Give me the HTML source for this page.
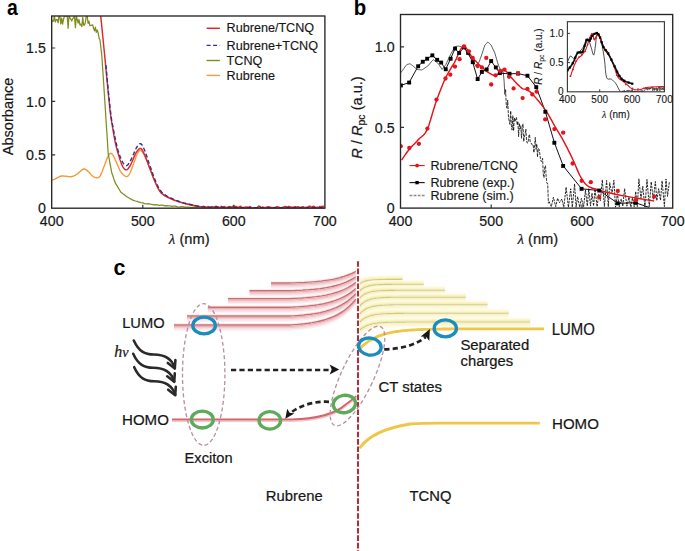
<!DOCTYPE html><html><head><meta charset="utf-8"><style>html,body{margin:0;padding:0;background:#fff;width:685px;height:551px;overflow:hidden;font-family:"Liberation Sans", sans-serif}svg{display:block}</style></head><body><svg width="685" height="551" viewBox="0 0 685 551">
<defs>
<filter id="sh" x="-20%" y="-20%" width="140%" height="140%"><feGaussianBlur stdDeviation="0.9"/></filter>
</defs>
<rect width="685" height="551" fill="#fff"/>
<g font-family="'Liberation Sans', sans-serif">
<text x="7.1" y="15.0" font-size="21.5" font-weight="bold" transform="translate(7.1 0) scale(0.9 1) translate(-7.1 0)">a</text>
<text x="353.8" y="15.2" font-size="21.5" font-weight="bold" transform="translate(353.8 0) scale(0.95 1) translate(-353.8 0)">b</text>
<text x="113.4" y="275.0" font-size="22" font-weight="bold" transform="translate(113.4 0) scale(0.97 1) translate(-113.4 0)">c</text>
</g>
<clipPath id="ca"><rect x="51.7" y="16.0" width="273.2" height="192.2"/></clipPath>
<clipPath id="cb"><rect x="400.5" y="14.5" width="272.20000000000005" height="193.6"/></clipPath>
<clipPath id="ci"><rect x="567.4" y="21.7" width="97.0" height="70.1"/></clipPath>
<g clip-path="url(#ca)" fill="none" stroke-linejoin="round">
<path d="M51.7,180.4 L52.3,180.1 L53.2,179.7 L54.2,179.3 L55.3,178.8 L56.3,178.3 L57.2,177.8 L58.1,177.3 L59.0,176.9 L59.9,176.5 L60.8,176.2 L61.7,176.0 L62.5,176.0 L63.4,176.0 L64.3,176.1 L65.4,176.2 L66.5,176.3 L67.8,176.5 L69.2,176.6 L70.5,176.7 L71.7,176.6 L72.9,176.3 L73.9,175.9 L75.0,175.4 L76.1,174.7 L77.2,174.0 L78.4,173.1 L79.8,171.8 L81.1,170.6 L82.4,169.6 L83.6,169.0 L84.6,169.0 L85.5,169.3 L86.4,169.9 L87.2,170.6 L88.1,171.4 L89.1,172.2 L90.0,173.3 L90.9,174.4 L91.8,175.4 L92.7,176.2 L93.5,176.7 L94.2,177.1 L94.9,177.4 L95.6,177.6 L96.3,177.7 L97.1,177.7 L97.8,177.6 L98.5,177.4 L99.2,177.0 L100.0,176.2 L100.7,174.9 L101.4,173.3 L102.2,171.5 L102.9,169.5 L103.6,167.6 L104.4,165.7 L105.1,163.6 L105.9,161.5 L106.6,159.6 L107.3,158.0 L107.9,156.7 L108.4,155.6 L108.9,154.7 L109.5,154.0 L110.0,153.5 L110.5,153.3 L111.0,153.3 L111.6,153.6 L112.1,154.1 L112.7,154.8 L113.4,155.9 L114.1,157.3 L114.8,158.8 L115.6,160.6 L116.4,162.3 L117.2,164.1 L118.1,166.2 L119.0,168.3 L119.9,170.3 L120.9,171.9 L122.0,173.3 L123.1,174.5 L124.3,175.5 L125.4,176.3 L126.4,176.6 L127.2,176.5 L128.0,176.0 L128.6,175.2 L129.3,174.2 L130.0,173.0 L130.7,171.4 L131.5,169.5 L132.2,167.5 L132.9,165.4 L133.7,163.4 L134.4,161.3 L135.2,159.2 L135.9,157.1 L136.6,155.3 L137.3,153.7 L137.9,152.6 L138.5,151.7 L139.0,151.1 L139.5,150.7 L140.0,150.5 L140.6,150.5 L141.1,150.8 L141.6,151.2 L142.2,151.9 L142.8,152.7 L143.4,153.7 L144.2,155.0 L144.9,156.4 L145.7,158.0 L146.4,159.6 L147.1,161.4 L147.9,163.3 L148.6,165.3 L149.3,167.3 L150.1,169.2 L150.8,171.2 L151.5,173.1 L152.2,175.1 L153.0,177.0 L153.7,178.8 L154.4,180.6 L155.2,182.3 L155.9,183.9 L156.6,185.4 L157.3,186.8 L158.1,188.2 L158.8,189.5 L159.5,190.6 L160.2,191.7 L161.0,192.7 L161.8,193.6 L162.7,194.4 L163.7,195.0 L164.6,195.7 L165.5,196.2 L166.4,196.7 L167.1,197.1 L167.9,197.5 L168.9,197.9 L170.1,198.4 L171.6,199.0 L173.4,199.8 L175.3,200.6 L177.3,201.3 L179.2,202.0 L181.0,202.6 L182.8,203.1 L184.7,203.6 L186.5,204.0 L188.3,204.5 L190.0,204.9 L191.5,205.3 L193.1,205.6 L195.0,206.0 L197.4,206.3 L200.2,206.6 L203.2,206.8 L206.6,207.0 L210.7,207.2 L215.6,207.3 L221.2,207.4 L227.1,207.5 L234.0,207.5 L242.1,207.5 L252.0,207.6 L265.5,207.6 L282.1,207.6 L299.3,207.6 L314.4,207.7 L324.9,207.7" stroke="#f39a3c" stroke-width="1.4"/>
<path d="M51.7,22.0 L52.6,20.6 L53.5,21.2 L54.4,16.0 L55.3,22.0 L56.3,19.5 L57.2,19.5 L58.1,22.9 L59.0,16.0 L59.9,16.6 L60.8,23.9 L61.7,18.2 L62.6,24.2 L63.5,19.5 L64.4,16.0 L65.4,16.0 L66.3,16.0 L67.2,16.0 L68.1,28.3 L69.0,16.0 L69.9,17.9 L70.8,19.2 L71.7,21.0 L72.6,18.6 L73.6,17.7 L74.5,16.0 L75.4,27.7 L76.3,16.0 L77.2,19.3 L78.1,23.2 L79.0,19.5 L79.9,24.9 L80.8,24.2 L81.8,26.6 L82.7,17.4 L83.6,25.1 L84.5,25.1 L85.4,22.2 L86.3,16.0 L87.2,16.0 L88.1,23.5 L89.0,21.1 L89.9,25.7 L90.9,25.5 L91.8,25.1 L92.7,24.8 L93.6,28.6 L94.5,30.8 L95.4,27.2 L96.3,32.4 L97.2,30.0 L98.1,32.7 L99.1,38.4 L100.0,40.0 L100.9,47.8 L101.8,55.5 L102.7,68.9 L103.6,82.2 L104.5,96.1 L105.4,110.0 L106.3,124.6 L107.3,139.2 L108.2,153.7 L109.1,158.5 L110.0,163.4 L110.9,168.2 L111.8,173.0 L112.7,175.5 L113.6,178.1 L114.5,180.7 L115.4,183.2 L117.3,186.2 L119.1,189.2 L120.9,192.2 L122.7,193.6 L124.6,195.0 L126.4,196.5 L128.2,197.5 L130.0,198.5 L131.8,199.6 L133.7,200.3 L135.5,201.0 L137.3,201.4 L139.1,202.2 L140.9,202.6 L142.8,202.8 L144.6,203.6 L146.4,203.9 L148.2,203.6 L150.1,204.2 L151.9,204.3 L153.7,204.9 L155.5,204.7 L157.3,204.8 L159.2,205.4 L161.0,205.1 L162.8,205.2 L164.6,205.9 L166.4,205.6 L168.3,205.9 L170.1,205.9 L171.9,206.3 L173.7,206.1 L175.6,206.2 L177.4,206.9 L179.2,207.0 L181.0,206.6 L182.8,206.5 L184.7,207.2 L186.5,207.0 L188.3,207.0 L190.1,207.3 L191.9,207.3 L193.8,207.4 L195.6,207.4 L197.4,207.3 L199.2,207.5 L201.0,207.5 L202.9,207.2 L204.7,207.8 L206.5,207.4 L208.3,207.3 L210.2,207.7 L212.0,207.8 L213.8,207.3 L215.6,207.8 L217.4,207.8 L219.3,207.7 L221.1,207.5 L222.9,208.0 L224.7,207.8 L226.5,207.8 L228.4,207.4 L230.2,207.8 L232.0,207.4 L233.8,208.1 L235.7,207.9 L237.5,207.6 L239.3,207.5 L241.1,207.8 L242.9,208.0 L244.8,208.1 L246.6,207.8 L248.4,208.1 L250.2,207.5 L252.0,207.5 L253.9,208.1 L255.7,208.0 L257.5,207.5 L259.3,207.7 L261.2,207.5 L263.0,207.9 L264.8,208.1 L266.6,208.0 L268.4,207.6 L270.3,208.0 L272.1,207.9 L273.9,207.9 L275.7,207.9 L277.5,207.9 L279.4,207.5 L281.2,208.1 L283.0,208.3 L284.8,207.5 L286.7,207.5 L288.5,207.4 L290.3,207.9 L292.1,207.5 L293.9,207.5 L295.8,208.1 L297.6,207.6 L299.4,207.6 L301.2,207.7 L303.0,207.8 L304.9,208.0 L306.7,208.0 L308.5,208.1 L310.3,208.2 L312.2,207.8 L314.0,208.0 L315.8,207.6 L317.6,208.3 L319.4,207.5 L321.3,207.7 L323.1,207.5 L324.9,207.5" stroke="#808d1e" stroke-width="1.25"/>
<path d="M100.5,13.9 L101.4,22.7 L102.7,35.5 L104.1,49.7 L105.4,63.0 L106.6,75.6 L107.8,88.4 L109.0,100.3 L110.0,110.0 L110.8,116.6 L111.5,121.0 L112.1,124.5 L112.7,128.1 L113.4,132.1 L114.0,135.9 L114.7,139.5 L115.4,143.1 L116.3,146.7 L117.2,150.3 L118.2,153.8 L119.1,156.9 L120.0,159.8 L121.0,162.4 L121.9,164.7 L122.7,166.6 L123.5,167.9 L124.2,168.8 L124.8,169.4 L125.5,169.8 L126.1,169.9 L126.8,169.8 L127.4,169.4 L128.2,168.7 L129.0,167.5 L130.0,166.0 L130.9,164.2 L131.8,162.3 L132.7,160.2 L133.7,157.9 L134.6,155.7 L135.5,153.7 L136.4,152.2 L137.4,150.8 L138.3,149.7 L139.1,148.9 L139.8,148.5 L140.5,148.4 L141.1,148.7 L141.9,149.5 L142.7,150.8 L143.6,152.6 L144.6,154.8 L145.5,156.9 L146.4,159.2 L147.3,161.6 L148.2,164.1 L149.1,166.6 L150.1,169.0 L151.0,171.4 L151.9,173.8 L152.8,176.2 L153.7,178.4 L154.6,180.6 L155.5,182.7 L156.4,184.7 L157.3,186.6 L158.2,188.5 L159.2,190.2 L160.1,191.6 L161.0,192.7 L161.8,193.5 L162.7,194.2 L163.7,194.9 L164.7,195.6 L165.8,196.2 L167.0,196.9 L168.3,197.5 L169.7,198.2 L171.2,198.8 L172.8,199.5 L174.6,200.2 L176.7,200.9 L179.0,201.7 L181.4,202.4 L183.7,203.1 L186.0,203.7 L188.3,204.2 L190.6,204.7 L192.9,205.2 L195.3,205.7 L198.0,206.2 L200.3,206.6 L202.0,206.9 L203.8,206.3 L205.1,206.9 L206.5,208.0 L207.9,206.6 L209.2,207.7 L210.6,207.4 L212.0,206.7 L213.3,207.0 L214.7,207.2 L216.1,206.2 L217.4,206.8 L218.8,207.3 L220.2,207.5 L221.5,206.3 L222.9,207.1 L224.3,206.5 L225.6,207.3 L227.0,207.6 L228.4,207.0 L229.7,206.4 L231.1,207.7 L232.5,206.5 L233.8,206.2 L235.2,206.4 L236.6,206.4 L237.9,208.0 L239.3,206.8 L240.7,206.3 L242.0,207.9 L243.4,207.5 L244.8,207.5 L246.1,207.0 L247.5,207.2 L248.9,207.1 L250.2,206.5 L251.6,208.0 L253.0,207.9 L254.3,207.7 L255.7,207.7 L257.1,207.9 L258.4,206.1 L259.8,206.3 L261.2,207.8 L262.5,207.0 L263.9,207.4 L265.3,207.4 L266.6,207.3 L268.0,206.7 L269.3,206.9 L270.7,207.3 L272.1,207.6 L273.4,207.4 L274.8,207.7 L276.2,206.9 L277.5,206.6 L278.9,207.3 L280.3,207.8 L281.6,207.6 L283.0,207.3 L284.4,206.8 L285.7,206.5 L287.1,207.3 L288.5,206.4 L289.8,206.8 L291.2,207.2 L292.6,207.3 L293.9,207.0 L295.3,206.6 L296.7,207.2 L298.0,206.7 L299.4,207.1 L300.8,207.5 L302.1,207.0 L303.5,206.7 L304.9,207.8 L306.2,207.2 L307.6,207.2 L309.0,206.3 L310.3,206.2 L311.7,207.3 L313.1,206.3 L314.4,206.5 L315.8,207.5 L317.2,207.1 L318.5,207.7 L319.9,206.4 L321.3,206.7 L322.6,206.3 L324.0,206.5" stroke="#e3242b" stroke-width="1.45"/>
<path d="M105.9,65.1 L106.7,73.8 L107.9,86.5 L109.2,99.7 L110.3,110.0 L111.1,116.3 L111.7,120.4 L112.3,123.7 L113.0,127.0 L113.7,130.8 L114.3,134.3 L115.0,137.6 L115.7,140.9 L116.5,144.3 L117.3,147.7 L118.2,150.9 L119.1,153.7 L120.0,156.3 L121.0,158.6 L121.9,160.6 L122.7,162.3 L123.5,163.6 L124.2,164.5 L124.8,165.1 L125.5,165.5 L126.1,165.6 L126.8,165.6 L127.4,165.2 L128.2,164.4 L129.0,163.2 L130.0,161.7 L130.9,159.9 L131.8,158.0 L132.7,156.0 L133.7,153.7 L134.6,151.4 L135.5,149.5 L136.4,147.8 L137.4,146.2 L138.3,145.0 L139.1,144.1 L139.8,143.7 L140.5,143.6 L141.1,143.9 L141.9,144.7 L142.7,146.1 L143.6,148.0 L144.6,150.3 L145.5,152.7 L146.4,155.2 L147.3,157.8 L148.2,160.6 L149.1,163.4 L150.1,166.1 L151.0,168.8 L151.9,171.5 L152.8,174.0 L153.7,176.5 L154.6,178.8 L155.5,181.0 L156.4,183.1 L157.3,185.1 L158.2,186.9 L159.2,188.6 L160.1,190.0 L161.0,191.2 L161.8,192.2 L162.7,193.0 L163.7,193.8 L164.7,194.6 L165.8,195.3 L167.0,196.0 L168.3,196.7 L169.7,197.4 L171.2,198.1 L172.8,198.9 L174.6,199.7 L176.7,200.5 L179.0,201.3 L181.4,202.1 L183.7,202.9 L186.0,203.5 L188.3,204.0 L190.6,204.5 L192.9,205.0 L194.6,205.5 L196.0,205.9 L198.1,206.3 L202.0,206.7 L208.0,207.0 L215.6,207.2 L224.4,207.4 L233.8,207.6 L244.3,207.6 L255.7,207.7 L267.7,207.7 L279.4,207.7 L291.8,207.7 L305.0,207.7 L316.7,207.8 L324.9,207.8" stroke="#2e3192" stroke-width="1.4" stroke-dasharray="4 2.5"/>
</g>
<rect x="51.7" y="16.0" width="273.2" height="192.2" fill="none" stroke="#262626" stroke-width="1.35"/>
<path d="M51.7,154.8 h3.5 M51.7,101.4 h3.5 M51.7,48.0 h3.5 M142.8,208.2 v-3.5 M233.8,208.2 v-3.5" stroke="#333" stroke-width="1.2"/>
<g font-family="'Liberation Sans', sans-serif" font-size="14.2" fill="#161616" stroke="#161616" stroke-width="0.2">
<text x="45.8" y="213.4" text-anchor="end" font-size="14.8" transform="translate(45.8 0) scale(0.96 1) translate(-45.8 0)">0</text>
<text x="45.8" y="160.0" text-anchor="end" font-size="14.8" transform="translate(45.8 0) scale(0.96 1) translate(-45.8 0)">0.5</text>
<text x="45.8" y="106.6" text-anchor="end" font-size="14.8" transform="translate(45.8 0) scale(0.96 1) translate(-45.8 0)">1.0</text>
<text x="45.8" y="53.2" text-anchor="end" font-size="14.8" transform="translate(45.8 0) scale(0.96 1) translate(-45.8 0)">1.5</text>
<text x="51.7" y="226.3" text-anchor="middle" font-size="14.8" transform="translate(51.7 0) scale(0.96 1) translate(-51.7 0)">400</text>
<text x="142.8" y="226.3" text-anchor="middle" font-size="14.8" transform="translate(142.8 0) scale(0.96 1) translate(-142.8 0)">500</text>
<text x="233.8" y="226.3" text-anchor="middle" font-size="14.8" transform="translate(233.8 0) scale(0.96 1) translate(-233.8 0)">600</text>
<text x="324.9" y="226.3" text-anchor="middle" font-size="14.8" transform="translate(324.9 0) scale(0.96 1) translate(-324.9 0)">700</text>
<text x="-39.2" y="0" font-size="14.2" textLength="77.6" lengthAdjust="spacingAndGlyphs" transform="translate(13.0 116) rotate(-90)">Absorbance</text>
<text x="189.2" y="244.3" font-size="14.7" text-anchor="middle"><tspan font-family="'Liberation Serif', serif" font-style="italic" font-size="15">λ</tspan> (nm)</text>
<text x="537.8" y="244.3" font-size="14.7" text-anchor="middle"><tspan font-family="'Liberation Serif', serif" font-style="italic" font-size="15">λ</tspan> (nm)</text>
</g>
<g font-family="'Liberation Sans', sans-serif" font-size="12.6" fill="#161616" stroke="#161616" stroke-width="0.15">
<path d="M206.6,28.3 H219.9" stroke="#e3242b" stroke-width="1.5"/>
<path d="M206.6,45.4 H219.9" stroke="#2e3192" stroke-width="1.4" stroke-dasharray="4 2.5"/>
<path d="M206.6,60.5 H219.9" stroke="#808d1e" stroke-width="1.4"/>
<path d="M206.6,75.4 H219.9" stroke="#f39a3c" stroke-width="1.4"/>
<text x="226.6" y="32.4">Rubrene/TCNQ</text>
<text x="226.6" y="49.5">Rubrene+TCNQ</text>
<text x="226.6" y="64.6">TCNQ</text>
<text x="226.6" y="79.5">Rubrene</text>
</g>
<g clip-path="url(#cb)" fill="none" stroke-linejoin="round">
<path d="M400.5,73.0 L401.4,71.8 L402.3,70.6 L403.2,69.4 L404.1,68.1 L405.0,66.9 L405.9,65.7 L406.9,64.5 L407.8,64.3 L408.7,64.1 L409.6,63.8 L410.5,64.1 L411.4,64.7 L412.3,65.4 L413.2,66.1 L414.1,66.9 L415.0,67.7 L415.9,68.5 L416.8,69.4 L417.7,69.5 L418.6,69.6 L419.6,69.7 L420.5,69.8 L421.4,69.9 L422.3,69.7 L423.2,69.1 L424.1,68.5 L425.0,67.9 L425.9,67.3 L426.8,66.7 L427.7,66.1 L428.6,65.1 L429.5,64.0 L430.4,62.9 L431.3,61.8 L432.3,60.7 L433.2,59.7 L434.1,60.3 L435.0,61.0 L435.9,61.6 L436.8,62.3 L437.7,62.9 L438.6,64.2 L439.5,65.5 L440.4,66.8 L441.3,68.1 L442.2,69.4 L443.1,68.1 L444.1,66.9 L445.0,65.7 L445.9,64.5 L446.8,62.6 L447.7,60.6 L448.6,58.7 L449.5,56.8 L450.4,54.8 L451.3,53.2 L452.2,51.6 L453.1,50.0 L454.0,48.4 L454.9,46.8 L455.8,46.5 L456.8,46.3 L457.7,46.1 L458.6,46.1 L459.5,46.3 L460.4,46.5 L461.3,46.8 L462.2,47.4 L463.1,48.0 L464.0,48.6 L464.9,49.2 L465.8,50.6 L466.7,52.0 L467.6,53.4 L468.6,54.8 L469.5,56.0 L470.4,57.1 L471.3,58.2 L472.2,59.3 L473.1,60.7 L474.0,62.5 L474.9,64.3 L475.8,66.0 L476.7,66.1 L477.6,64.5 L478.5,62.9 L479.4,61.3 L480.3,58.6 L481.3,55.9 L482.2,53.2 L483.1,50.5 L484.0,47.8 L484.9,45.2 L485.8,44.2 L486.7,43.2 L487.6,42.2 L488.5,42.5 L489.4,43.4 L490.3,44.3 L491.2,45.2 L492.1,47.2 L493.0,49.2 L494.0,51.2 L494.9,53.2 L495.8,56.4 L496.7,59.5 L497.6,62.6 L498.5,65.3 L499.4,67.3 L500.3,69.4 L501.2,71.0 L501.9,72.4 L502.7,70.5 L503.4,73.5 L504.1,81.2 L504.8,94.4 L505.6,89.6" stroke="#222" stroke-width="0.75"/>
<path d="M505.6,89.6 L506.3,105.9 L507.0,108.2 L507.7,100.1 L508.5,118.0 L509.2,120.8 L509.9,124.4 L510.7,110.9 L511.4,125.8 L512.1,130.1 L512.8,115.6 L513.6,130.9 L514.3,117.8 L515.0,121.6 L515.7,119.0 L516.5,117.3 L517.2,125.0 L517.9,121.3 L518.6,136.6 L519.4,123.2 L520.1,129.0 L520.8,125.8 L521.5,138.3 L522.3,126.7 L523.0,123.9 L523.7,141.5 L524.4,137.2 L525.2,133.4 L525.9,129.0 L526.6,141.1 L527.3,143.1 L528.1,142.5 L528.8,136.2 L529.5,134.3 L530.2,142.1 L531.0,143.4 L531.7,143.6 L532.4,145.4 L533.2,145.1 L533.9,152.6 L534.6,145.6 L535.3,137.4 L536.1,149.3 L536.8,144.0 L537.5,157.1 L538.2,148.6 L539.0,149.0 L539.7,152.8 L540.4,158.4 L541.1,161.6 L541.9,161.1 L542.6,158.3 L543.3,174.7 L544.0,177.7 L544.8,167.0 L545.5,165.7 L546.2,177.3 L546.9,183.2 L547.7,183.6 L548.4,203.4" stroke="#111" stroke-width="0.85" stroke-dasharray="3 1.1"/>
<path d="M549.0,201.4 L551.3,206.7 L553.4,197.3 L555.7,206.6 L557.6,198.2 L559.5,202.7 L561.8,199.0 L563.8,207.2 L566.1,187.2 L568.4,207.2 L570.7,188.8 L572.3,207.2 L574.6,183.9 L576.1,207.2 L577.6,196.6 L579.7,207.2 L581.4,198.4 L583.6,206.8 L585.5,189.8 L587.3,206.1 L588.8,188.7 L590.5,206.1 L592.0,193.1 L593.6,205.9 L595.0,189.2 L597.1,206.6 L598.8,194.3 L600.4,200.7 L602.3,179.8 L604.4,206.6 L606.6,180.4 L608.3,206.6 L609.7,182.7 L612.0,193.8 L613.9,180.3 L615.5,207.2 L617.4,193.8 L619.3,206.8 L621.2,198.9 L622.8,206.3 L624.6,188.7 L626.9,206.2 L629.0,197.1 L630.9,207.2 L632.4,197.9 L634.2,206.7 L635.7,191.5 L637.3,206.6 L638.9,178.8 L640.9,198.6 L642.8,186.2 L644.9,207.2 L647.0,179.5 L649.3,206.6 L651.2,181.8 L653.3,199.4 L655.4,181.5 L656.8,200.6 L658.7,188.7 L660.5,200.3 L662.1,180.8 L664.4,206.5 L666.0,179.0 L667.5,196.4 L669.4,181.9" stroke="#111" stroke-width="0.9" stroke-dasharray="2.4 1.0"/>
<path d="M400.9,85.4 L409.1,82.6 L418.1,66.3 L422.7,61.8 L427.2,58.7 L432.3,55.4 L437.2,59.9 L441.1,62.6 L445.7,69.3 L450.6,58.7 L455.0,48.6 L459.1,53.0 L464.2,47.3 L468.1,53.0 L472.7,62.2 L477.6,79.1 L481.9,72.0 L486.6,69.4 L491.2,61.1 L495.8,67.5 L499.8,73.2 L509.5,73.8 L518.1,73.6 L527.5,75.7 L536.3,87.2 L545.4,111.8 L554.4,142.7 L563.2,165.9 L581.6,188.8 L599.3,190.5 L617.8,203.3 L635.6,202.8 L649.0,207.3" stroke="#111" stroke-width="1.0"/>
<path d="M401.6,160.0 L402.6,158.6 L403.9,156.6 L405.5,154.3 L407.2,152.0 L408.9,149.8 L410.6,147.8 L412.4,145.8 L414.3,143.9 L416.2,141.9 L418.0,139.9 L419.8,138.2 L421.6,136.8 L423.4,135.2 L425.2,133.1 L427.0,129.9 L428.8,125.4 L430.6,119.7 L432.4,113.5 L434.3,107.3 L436.1,101.7 L438.0,96.6 L439.9,91.5 L441.8,86.7 L443.6,82.2 L445.5,78.1 L447.3,74.5 L449.1,71.3 L450.9,68.4 L452.7,65.5 L454.5,62.5 L456.3,58.9 L458.0,54.8 L459.8,50.9 L461.6,47.9 L463.4,46.4 L465.2,47.0 L467.0,49.1 L468.8,52.1 L470.7,55.3 L472.7,58.0 L474.8,60.3 L477.1,62.6 L479.4,64.9 L481.6,67.0 L483.6,68.8 L485.4,70.3 L487.0,71.6 L488.5,72.6 L489.9,73.5 L491.2,74.2 L492.4,74.8 L493.6,75.2 L494.6,75.5 L495.6,75.5 L496.6,75.3 L497.5,74.6 L498.4,73.6 L499.2,72.3 L500.0,71.2 L500.9,70.5 L501.7,70.1 L502.6,69.9 L503.4,69.9 L504.3,70.2 L505.4,70.8 L506.7,71.9 L508.0,73.5 L509.5,75.3 L511.1,77.2 L512.7,79.0 L514.4,80.9 L516.3,82.9 L518.2,84.9 L520.1,86.7 L521.7,88.1 L523.0,88.9 L524.2,89.1 L525.3,89.2 L526.3,89.4 L527.5,89.9 L528.7,90.8 L530.0,91.7 L531.3,92.9 L532.7,94.4 L534.4,96.2 L536.3,98.4 L538.5,101.0 L540.8,103.8 L543.1,106.8 L545.3,109.9 L547.4,113.2 L549.5,116.6 L551.5,120.2 L553.4,123.7 L555.3,127.0 L557.0,129.9 L558.7,132.6 L560.2,135.2 L561.8,137.9 L563.5,140.9 L565.3,144.3 L567.2,147.9 L569.0,151.7 L570.9,155.4 L572.6,159.0 L574.2,162.5 L575.7,166.0 L577.1,169.4 L578.5,172.6 L579.9,175.5 L581.3,178.0 L582.7,180.3 L584.0,182.2 L585.5,184.0 L587.1,185.5 L588.8,186.7 L590.7,187.5 L592.6,188.2 L594.7,188.8 L597.0,189.5 L599.4,190.3 L601.8,191.0 L604.4,191.7 L607.4,192.5 L610.9,193.3 L615.2,194.2 L620.3,195.2 L625.6,196.1 L630.9,197.1 L635.6,197.9 L640.0,198.7 L644.3,199.4 L648.3,200.1 L651.7,200.6 L654.1,201.0" stroke="#e3141b" stroke-width="1.45"/>
</g>
<g clip-path="url(#cb)">
<rect x="398.9" y="83.5" width="3.9" height="3.9" fill="#000"/>
<rect x="407.2" y="80.6" width="3.9" height="3.9" fill="#000"/>
<rect x="416.2" y="64.3" width="3.9" height="3.9" fill="#000"/>
<rect x="420.8" y="59.8" width="3.9" height="3.9" fill="#000"/>
<rect x="425.2" y="56.8" width="3.9" height="3.9" fill="#000"/>
<rect x="430.4" y="53.4" width="3.9" height="3.9" fill="#000"/>
<rect x="435.2" y="57.9" width="3.9" height="3.9" fill="#000"/>
<rect x="439.2" y="60.6" width="3.9" height="3.9" fill="#000"/>
<rect x="443.8" y="67.3" width="3.9" height="3.9" fill="#000"/>
<rect x="448.7" y="56.8" width="3.9" height="3.9" fill="#000"/>
<rect x="453.1" y="46.6" width="3.9" height="3.9" fill="#000"/>
<rect x="457.2" y="51.0" width="3.9" height="3.9" fill="#000"/>
<rect x="462.2" y="45.3" width="3.9" height="3.9" fill="#000"/>
<rect x="466.2" y="51.0" width="3.9" height="3.9" fill="#000"/>
<rect x="470.8" y="60.2" width="3.9" height="3.9" fill="#000"/>
<rect x="475.7" y="77.1" width="3.9" height="3.9" fill="#000"/>
<rect x="479.9" y="70.0" width="3.9" height="3.9" fill="#000"/>
<rect x="484.7" y="67.5" width="3.9" height="3.9" fill="#000"/>
<rect x="489.2" y="59.1" width="3.9" height="3.9" fill="#000"/>
<rect x="493.9" y="65.5" width="3.9" height="3.9" fill="#000"/>
<rect x="497.9" y="71.2" width="3.9" height="3.9" fill="#000"/>
<rect x="507.6" y="71.8" width="3.9" height="3.9" fill="#000"/>
<rect x="516.1" y="71.6" width="3.9" height="3.9" fill="#000"/>
<rect x="525.5" y="73.8" width="3.9" height="3.9" fill="#000"/>
<rect x="534.3" y="85.2" width="3.9" height="3.9" fill="#000"/>
<rect x="543.4" y="109.8" width="3.9" height="3.9" fill="#000"/>
<rect x="552.4" y="140.8" width="3.9" height="3.9" fill="#000"/>
<rect x="561.2" y="164.0" width="3.9" height="3.9" fill="#000"/>
<rect x="579.6" y="186.9" width="3.9" height="3.9" fill="#000"/>
<rect x="597.3" y="188.6" width="3.9" height="3.9" fill="#000"/>
<rect x="615.8" y="201.4" width="3.9" height="3.9" fill="#000"/>
<rect x="633.6" y="200.9" width="3.9" height="3.9" fill="#000"/>
<circle cx="400.7" cy="146.2" r="2.15" fill="#e3141b"/>
<circle cx="409.3" cy="148.0" r="2.15" fill="#e3141b"/>
<circle cx="418.9" cy="143.8" r="2.15" fill="#e3141b"/>
<circle cx="427.4" cy="128.6" r="2.15" fill="#e3141b"/>
<circle cx="436.5" cy="99.6" r="2.15" fill="#e3141b"/>
<circle cx="445.5" cy="78.5" r="2.15" fill="#e3141b"/>
<circle cx="450.3" cy="74.7" r="2.15" fill="#e3141b"/>
<circle cx="455.0" cy="66.6" r="2.15" fill="#e3141b"/>
<circle cx="459.6" cy="59.2" r="2.15" fill="#e3141b"/>
<circle cx="464.0" cy="46.4" r="2.15" fill="#e3141b"/>
<circle cx="468.9" cy="51.3" r="2.15" fill="#e3141b"/>
<circle cx="472.7" cy="57.9" r="2.15" fill="#e3141b"/>
<circle cx="477.6" cy="66.0" r="2.15" fill="#e3141b"/>
<circle cx="481.9" cy="67.5" r="2.15" fill="#e3141b"/>
<circle cx="486.3" cy="57.9" r="2.15" fill="#e3141b"/>
<circle cx="491.2" cy="84.5" r="2.15" fill="#e3141b"/>
<circle cx="495.5" cy="75.3" r="2.15" fill="#e3141b"/>
<circle cx="500.1" cy="71.0" r="2.15" fill="#e3141b"/>
<circle cx="504.5" cy="69.6" r="2.15" fill="#e3141b"/>
<circle cx="509.0" cy="76.8" r="2.15" fill="#e3141b"/>
<circle cx="513.6" cy="88.4" r="2.15" fill="#e3141b"/>
<circle cx="518.1" cy="73.2" r="2.15" fill="#e3141b"/>
<circle cx="522.6" cy="98.1" r="2.15" fill="#e3141b"/>
<circle cx="527.5" cy="89.0" r="2.15" fill="#e3141b"/>
<circle cx="532.3" cy="94.4" r="2.15" fill="#e3141b"/>
<circle cx="536.6" cy="91.7" r="2.15" fill="#e3141b"/>
<circle cx="545.2" cy="119.4" r="2.15" fill="#e3141b"/>
<circle cx="554.4" cy="129.1" r="2.15" fill="#e3141b"/>
<circle cx="563.2" cy="132.7" r="2.15" fill="#e3141b"/>
<circle cx="572.6" cy="163.5" r="2.15" fill="#e3141b"/>
<circle cx="581.7" cy="180.8" r="2.15" fill="#e3141b"/>
<circle cx="590.8" cy="182.2" r="2.15" fill="#e3141b"/>
<circle cx="599.1" cy="197.1" r="2.15" fill="#e3141b"/>
<circle cx="617.8" cy="191.0" r="2.15" fill="#e3141b"/>
<circle cx="635.6" cy="200.2" r="2.15" fill="#e3141b"/>
<circle cx="654.1" cy="196.7" r="2.15" fill="#e3141b"/>
</g>
<rect x="400.5" y="14.5" width="272.2" height="193.6" fill="none" stroke="#262626" stroke-width="1.35"/>
<path d="M400.5,127.4 h3.5 M400.5,46.8 h3.5 M491.2,208.1 v-3.5 M582.0,208.1 v-3.5" stroke="#333" stroke-width="1.2"/>
<g font-family="'Liberation Sans', sans-serif" font-size="14.2" fill="#161616" stroke="#161616" stroke-width="0.2">
<text x="394.6" y="213.3" text-anchor="end" font-size="14.8" transform="translate(394.6 0) scale(0.96 1) translate(-394.6 0)">0</text>
<text x="394.6" y="132.6" text-anchor="end" font-size="14.8" transform="translate(394.6 0) scale(0.96 1) translate(-394.6 0)">0.5</text>
<text x="394.6" y="52.0" text-anchor="end" font-size="14.8" transform="translate(394.6 0) scale(0.96 1) translate(-394.6 0)">1.0</text>
<text x="400.5" y="226.3" text-anchor="middle" font-size="14.8" transform="translate(400.5 0) scale(0.96 1) translate(-400.5 0)">400</text>
<text x="491.2" y="226.3" text-anchor="middle" font-size="14.8" transform="translate(491.2 0) scale(0.96 1) translate(-491.2 0)">500</text>
<text x="582.0" y="226.3" text-anchor="middle" font-size="14.8" transform="translate(582.0 0) scale(0.96 1) translate(-582.0 0)">600</text>
<text x="672.7" y="226.3" text-anchor="middle" font-size="14.8" transform="translate(672.7 0) scale(0.96 1) translate(-672.7 0)">700</text>
<text x="0" y="0" font-size="14.6" text-anchor="middle" transform="translate(361.6 117.5) rotate(-90)"><tspan font-style="italic">R</tspan> / <tspan font-style="italic">R</tspan><tspan font-size="10.5" dy="3.2">pc</tspan><tspan dy="-3.2"> (a.u.)</tspan></text>
</g>
<g font-family="'Liberation Sans', sans-serif" font-size="12.6" fill="#161616" stroke="#161616" stroke-width="0.15">
<path d="M409.5,165.6 H424.7" stroke="#e3141b" stroke-width="1.1"/><circle cx="417.1" cy="165.6" r="1.8" fill="#e3141b"/>
<path d="M409.5,182.6 H424.7" stroke="#111" stroke-width="1.1"/><rect x="415.5" y="181" width="3.2" height="3.2" fill="#000"/>
<path d="M409.5,195.5 H424.7" stroke="#8a8a8a" stroke-width="1.3" stroke-dasharray="2.8 1.3"/>
<text x="430.4" y="169.6">Rubrene/TCNQ</text>
<text x="430.4" y="186.6">Rubrene (exp.)</text>
<text x="430.4" y="199.5">Rubrene (sim.)</text>
</g>
<rect x="567.4" y="21.7" width="97.0" height="70.1" fill="#fff" stroke="#333" stroke-width="1.1"/>
<g clip-path="url(#ci)" fill="none" stroke-linejoin="round">
<path d="M567.4,62.4 L567.9,61.0 L568.7,59.0 L569.6,57.1 L570.4,56.0 L571.2,56.1 L572.0,57.1 L572.9,58.1 L573.7,58.4 L574.5,57.8 L575.3,56.6 L576.1,55.2 L577.0,54.0 L577.9,53.0 L578.9,52.1 L579.9,51.1 L581.0,50.0 L582.2,48.6 L583.4,46.9 L584.6,45.3 L585.7,43.9 L586.5,42.6 L587.2,41.4 L587.9,40.6 L588.5,40.5 L589.1,41.4 L589.8,43.0 L590.4,45.0 L591.0,47.0 L591.7,49.3 L592.4,52.1 L593.1,54.3 L593.7,55.1 L594.2,53.9 L594.7,51.3 L595.1,48.1 L595.5,45.0 L595.9,41.9 L596.1,38.4 L596.5,35.4 L596.9,33.5 L597.5,33.2 L598.1,34.0 L598.8,35.5 L599.5,37.0 L600.1,38.5 L600.8,40.3 L601.4,42.4 L602.0,45.0 L602.6,48.2 L603.3,51.9 L603.9,55.9 L604.5,60.0 L605.0,64.6 L605.4,69.6 L605.9,74.3 L606.6,77.6 L607.6,79.0 L608.8,79.2 L610.1,78.9 L611.4,79.2 L612.6,80.1 L613.8,81.3 L615.1,82.6 L616.2,84.1 L617.2,85.9 L618.2,88.0 L619.2,89.9 L620.2,91.3 L621.5,91.9 L622.9,91.9 L624.1,91.7 L625.0,91.6" stroke="#222" stroke-width="0.8"/>
<path d="M622.4,90.7 L622.8,91.8 L623.2,91.8 L623.6,91.2 L624.0,90.3 L624.5,90.3 L624.9,91.8 L625.3,91.5 L625.7,91.8 L626.1,91.6 L626.6,91.8 L627.0,90.3 L627.4,91.0 L627.8,90.5 L628.3,91.7 L628.7,90.1 L629.1,90.2 L629.5,90.5 L629.9,90.1 L630.4,91.2 L630.8,91.1 L631.2,91.8 L631.6,91.6 L632.0,90.1 L632.5,91.6 L632.9,91.8 L633.3,91.4 L633.7,91.8 L634.1,90.9 L634.6,91.8 L635.0,90.8 L635.4,91.8 L635.8,91.2 L636.2,91.3 L636.7,91.8 L637.1,91.2 L637.5,91.6 L637.9,90.3 L638.3,90.6 L638.8,91.6 L639.2,91.3 L639.6,91.6 L640.0,90.8 L640.4,91.5 L640.9,90.6 L641.3,90.9 L641.7,91.5 L642.1,90.2 L642.5,91.8 L643.0,91.4 L643.4,91.2 L643.8,91.1 L644.2,91.1 L644.6,90.6 L645.1,89.3 L645.5,87.5 L645.9,87.4 L646.3,89.3 L646.7,87.1 L647.2,89.5 L647.6,90.2 L648.0,87.6 L648.4,89.1 L648.8,89.1 L649.3,88.1 L649.7,89.5 L650.1,87.6 L650.5,88.9 L650.9,87.8 L651.4,87.2 L651.8,88.1 L652.2,87.0 L652.6,90.7 L653.1,90.2 L653.5,87.9 L653.9,87.6 L654.3,90.5 L654.7,88.1 L655.2,88.2 L655.6,89.6 L656.0,88.5 L656.4,87.6 L656.8,90.7 L657.3,88.4 L657.7,90.7 L658.1,89.0 L658.5,87.4 L658.9,88.3 L659.4,86.8 L659.8,90.9 L660.2,90.1 L660.6,87.7 L661.0,87.2 L661.5,89.5 L661.9,89.7 L662.3,89.1 L662.7,87.6 L663.1,90.1 L663.6,88.1 L664.0,86.9 L664.4,87.1" stroke="#222" stroke-width="0.7"/>
<path d="M570.4,76.8 L571.0,74.8 L571.9,71.9 L573.0,68.7 L574.0,66.0 L575.0,63.8 L576.0,61.8 L577.0,60.0 L578.0,58.5 L579.0,57.4 L580.0,56.7 L581.0,56.0 L582.0,55.0 L583.0,53.7 L584.1,52.3 L585.1,50.8 L586.0,49.0 L586.8,46.9 L587.6,44.5 L588.3,42.1 L589.0,40.0 L589.8,37.9 L590.6,35.8 L591.4,34.2 L592.1,33.5 L592.7,34.5 L593.3,36.7 L593.9,38.9 L594.5,40.0 L595.2,39.2 L595.9,37.3 L596.7,35.4 L597.5,34.5 L598.3,35.0 L599.2,36.3 L600.1,38.1 L601.0,40.0 L601.9,42.3 L602.9,44.9 L603.9,47.6 L605.0,50.0 L606.2,51.9 L607.5,53.6 L608.8,55.2 L610.0,57.0 L611.1,59.1 L612.1,61.2 L613.0,63.6 L614.0,66.0 L614.9,68.8 L615.8,71.8 L616.7,74.6 L617.8,77.0 L619.1,78.6 L620.6,79.8 L622.2,80.8 L624.0,82.0 L625.9,83.7 L628.1,85.7 L630.2,87.6 L632.3,88.9 L634.3,89.6 L636.1,89.8 L638.0,89.7 L640.0,89.5 L641.9,89.1 L643.6,88.5 L645.7,87.8 L648.3,87.3 L652.2,87.0 L656.9,86.8 L661.3,86.6 L664.4,86.5" stroke="#e3141b" stroke-width="1.1"/>
<path d="M567.4,70.4 L568.4,69.2 L569.8,67.5 L571.4,65.4 L572.8,63.2 L574.1,60.6 L575.3,57.6 L576.5,54.7 L577.7,52.7 L578.9,52.1 L580.2,52.4 L581.4,52.7 L582.5,51.9 L583.6,49.4 L584.6,45.8 L585.6,42.3 L586.5,39.9 L587.4,39.3 L588.2,39.9 L589.0,40.6 L589.7,40.7 L590.3,39.8 L590.8,38.5 L591.4,37.1 L592.1,35.9 L593.2,34.9 L594.4,33.9 L595.8,33.2 L596.9,33.0 L597.8,33.5 L598.6,34.5 L599.3,35.8 L600.1,37.5 L600.9,39.6 L601.6,42.2 L602.5,44.8 L603.4,47.1 L604.5,48.8 L605.6,50.1 L606.9,51.5 L608.2,53.5 L609.7,56.3 L611.4,59.8 L613.1,63.3 L614.6,66.4 L615.9,69.1 L617.1,71.7 L618.2,74.0 L619.4,76.0 L620.5,77.6 L621.6,78.8 L622.8,79.8 L624.2,80.8 L626.2,81.7 L628.6,82.5 L630.8,83.2 L632.3,83.7" stroke="#111" stroke-width="1.7"/>
</g>
<g clip-path="url(#ci)">
<circle cx="570.4" cy="76.2" r="0.9" fill="#e3141b"/>
<circle cx="573.0" cy="69.5" r="0.9" fill="#e3141b"/>
<circle cx="576.0" cy="61.2" r="0.9" fill="#e3141b"/>
<circle cx="579.0" cy="57.1" r="0.9" fill="#e3141b"/>
<circle cx="582.0" cy="54.5" r="0.9" fill="#e3141b"/>
<circle cx="585.1" cy="51.3" r="0.9" fill="#e3141b"/>
<circle cx="587.6" cy="44.6" r="0.9" fill="#e3141b"/>
<circle cx="589.8" cy="37.9" r="0.9" fill="#e3141b"/>
<circle cx="592.1" cy="34.2" r="0.9" fill="#e3141b"/>
<circle cx="593.9" cy="38.6" r="0.9" fill="#e3141b"/>
<circle cx="595.9" cy="37.9" r="0.9" fill="#e3141b"/>
<circle cx="598.3" cy="35.4" r="0.9" fill="#e3141b"/>
<circle cx="601.0" cy="39.9" r="0.9" fill="#e3141b"/>
<circle cx="603.9" cy="47.8" r="0.9" fill="#e3141b"/>
<circle cx="607.5" cy="52.8" r="0.9" fill="#e3141b"/>
<circle cx="611.1" cy="59.6" r="0.9" fill="#e3141b"/>
<circle cx="614.0" cy="66.2" r="0.9" fill="#e3141b"/>
<circle cx="616.7" cy="75.2" r="0.9" fill="#e3141b"/>
<circle cx="620.6" cy="79.1" r="0.9" fill="#e3141b"/>
<circle cx="625.9" cy="84.4" r="0.9" fill="#e3141b"/>
<circle cx="632.3" cy="88.5" r="0.9" fill="#e3141b"/>
<circle cx="638.0" cy="89.1" r="0.9" fill="#e3141b"/>
<circle cx="643.6" cy="88.3" r="0.9" fill="#e3141b"/>
<circle cx="652.2" cy="87.5" r="0.9" fill="#e3141b"/>
<circle cx="664.4" cy="86.8" r="0.9" fill="#e3141b"/>
<rect x="566.3" y="69.3" width="2.2" height="2.2" fill="#000"/>
<rect x="568.7" y="66.4" width="2.2" height="2.2" fill="#000"/>
<rect x="571.7" y="62.1" width="2.2" height="2.2" fill="#000"/>
<rect x="574.2" y="56.5" width="2.2" height="2.2" fill="#000"/>
<rect x="576.6" y="51.6" width="2.2" height="2.2" fill="#000"/>
<rect x="579.1" y="51.3" width="2.2" height="2.2" fill="#000"/>
<rect x="581.4" y="50.8" width="2.2" height="2.2" fill="#000"/>
<rect x="583.5" y="44.7" width="2.2" height="2.2" fill="#000"/>
<rect x="585.4" y="38.8" width="2.2" height="2.2" fill="#000"/>
<rect x="587.1" y="38.8" width="2.2" height="2.2" fill="#000"/>
<rect x="588.6" y="39.6" width="2.2" height="2.2" fill="#000"/>
<rect x="589.7" y="37.4" width="2.2" height="2.2" fill="#000"/>
<rect x="591.0" y="34.8" width="2.2" height="2.2" fill="#000"/>
<rect x="593.3" y="32.8" width="2.2" height="2.2" fill="#000"/>
<rect x="595.8" y="31.9" width="2.2" height="2.2" fill="#000"/>
<rect x="597.5" y="33.4" width="2.2" height="2.2" fill="#000"/>
<rect x="599.0" y="36.4" width="2.2" height="2.2" fill="#000"/>
<rect x="600.5" y="41.1" width="2.2" height="2.2" fill="#000"/>
<rect x="602.3" y="46.0" width="2.2" height="2.2" fill="#000"/>
<rect x="604.5" y="49.0" width="2.2" height="2.2" fill="#000"/>
<rect x="607.1" y="52.4" width="2.2" height="2.2" fill="#000"/>
<rect x="610.3" y="58.6" width="2.2" height="2.2" fill="#000"/>
<rect x="613.5" y="65.3" width="2.2" height="2.2" fill="#000"/>
<rect x="616.0" y="70.6" width="2.2" height="2.2" fill="#000"/>
<rect x="618.3" y="74.9" width="2.2" height="2.2" fill="#000"/>
<rect x="620.5" y="77.7" width="2.2" height="2.2" fill="#000"/>
<rect x="623.1" y="79.7" width="2.2" height="2.2" fill="#000"/>
<rect x="627.5" y="81.5" width="2.2" height="2.2" fill="#000"/>
<rect x="631.2" y="82.6" width="2.2" height="2.2" fill="#000"/>
</g>
<path d="M567.4,62.6 h2.5 M567.4,33.4 h2.5 M599.7,91.8 v-2.5 M632.1,91.8 v-2.5" stroke="#333" stroke-width="1"/>
<g font-family="'Liberation Sans', sans-serif" font-size="10" fill="#161616" stroke="#161616" stroke-width="0.12">
<text x="563.5" y="95.2" text-anchor="end">0</text>
<text x="563.5" y="66.0" text-anchor="end">0.5</text>
<text x="563.5" y="36.8" text-anchor="end">1.0</text>
<text x="567.4" y="103.4" text-anchor="middle">400</text>
<text x="599.7" y="103.4" text-anchor="middle">500</text>
<text x="632.1" y="103.4" text-anchor="middle">600</text>
<text x="664.4" y="103.4" text-anchor="middle">700</text>
<text x="615.9" y="118.2" text-anchor="middle"><tspan font-family="'Liberation Serif', serif" font-style="italic">λ</tspan> (nm)</text>
<text x="0" y="0" text-anchor="middle" transform="translate(541.6 56.5) rotate(-90)"><tspan font-style="italic">R</tspan> / <tspan font-style="italic">R</tspan><tspan font-size="7" dy="2.2">pc</tspan><tspan dy="-2.2"> (a.u.)</tspan></text>
</g>
<g fill="none">
<path d="M271.0,283.0 L290.0,283.0 L292.0,282.9 L294.0,282.9 L296.0,282.8 L298.0,282.7 L300.0,282.6 L302.0,282.6 L304.0,282.5 L306.0,282.3 L308.0,282.2 L310.0,282.1 L312.0,281.9 L314.0,281.8 L316.0,281.6 L318.0,281.4 L320.0,281.2 L322.0,281.0 L324.0,280.7 L326.0,280.4 L328.0,280.1 L330.0,279.8 L332.0,279.5 L334.0,279.1 L336.0,278.6 L338.0,278.1 L340.0,277.6 L342.0,277.0 L344.0,276.4 L346.0,275.7 L348.0,275.0 L350.0,274.2 L352.0,273.3 L354.0,272.3 L355.8,271.3" transform="translate(0 -1.2)" stroke="#fbe9eb" stroke-width="1.1"/>
<path d="M271.0,283.0 L290.0,283.0 L292.0,282.9 L294.0,282.9 L296.0,282.8 L298.0,282.7 L300.0,282.6 L302.0,282.6 L304.0,282.5 L306.0,282.3 L308.0,282.2 L310.0,282.1 L312.0,281.9 L314.0,281.8 L316.0,281.6 L318.0,281.4 L320.0,281.2 L322.0,281.0 L324.0,280.7 L326.0,280.4 L328.0,280.1 L330.0,279.8 L332.0,279.5 L334.0,279.1 L336.0,278.6 L338.0,278.1 L340.0,277.6 L342.0,277.0 L344.0,276.4 L346.0,275.7 L348.0,275.0 L350.0,274.2 L352.0,273.3 L354.0,272.3 L355.8,271.3" transform="translate(0 5.0)" stroke="#fcf0f1" stroke-width="1.3"/>
<path d="M271.0,283.0 L290.0,283.0 L292.0,282.9 L294.0,282.9 L296.0,282.8 L298.0,282.7 L300.0,282.6 L302.0,282.6 L304.0,282.5 L306.0,282.3 L308.0,282.2 L310.0,282.1 L312.0,281.9 L314.0,281.8 L316.0,281.6 L318.0,281.4 L320.0,281.2 L322.0,281.0 L324.0,280.7 L326.0,280.4 L328.0,280.1 L330.0,279.8 L332.0,279.5 L334.0,279.1 L336.0,278.6 L338.0,278.1 L340.0,277.6 L342.0,277.0 L344.0,276.4 L346.0,275.7 L348.0,275.0 L350.0,274.2 L352.0,273.3 L354.0,272.3 L355.8,271.3" transform="translate(0 3.8)" stroke="#f7dfe1" stroke-width="1.3"/>
<path d="M271.0,283.0 L290.0,283.0 L292.0,282.9 L294.0,282.9 L296.0,282.8 L298.0,282.7 L300.0,282.6 L302.0,282.6 L304.0,282.5 L306.0,282.3 L308.0,282.2 L310.0,282.1 L312.0,281.9 L314.0,281.8 L316.0,281.6 L318.0,281.4 L320.0,281.2 L322.0,281.0 L324.0,280.7 L326.0,280.4 L328.0,280.1 L330.0,279.8 L332.0,279.5 L334.0,279.1 L336.0,278.6 L338.0,278.1 L340.0,277.6 L342.0,277.0 L344.0,276.4 L346.0,275.7 L348.0,275.0 L350.0,274.2 L352.0,273.3 L354.0,272.3 L355.8,271.3" transform="translate(0 2.6)" stroke="#f1cbce" stroke-width="1.3"/>
<path d="M271.0,283.0 L290.0,283.0 L292.0,282.9 L294.0,282.9 L296.0,282.8 L298.0,282.7 L300.0,282.6 L302.0,282.6 L304.0,282.5 L306.0,282.3 L308.0,282.2 L310.0,282.1 L312.0,281.9 L314.0,281.8 L316.0,281.6 L318.0,281.4 L320.0,281.2 L322.0,281.0 L324.0,280.7 L326.0,280.4 L328.0,280.1 L330.0,279.8 L332.0,279.5 L334.0,279.1 L336.0,278.6 L338.0,278.1 L340.0,277.6 L342.0,277.0 L344.0,276.4 L346.0,275.7 L348.0,275.0 L350.0,274.2 L352.0,273.3 L354.0,272.3 L355.8,271.3" transform="translate(0 1.4)" stroke="#e8b3b7" stroke-width="1.3"/>
<path d="M271.0,283.0 L290.0,283.0 L292.0,282.9 L294.0,282.9 L296.0,282.8 L298.0,282.7 L300.0,282.6 L302.0,282.6 L304.0,282.5 L306.0,282.3 L308.0,282.2 L310.0,282.1 L312.0,281.9 L314.0,281.8 L316.0,281.6 L318.0,281.4 L320.0,281.2 L322.0,281.0 L324.0,280.7 L326.0,280.4 L328.0,280.1 L330.0,279.8 L332.0,279.5 L334.0,279.1 L336.0,278.6 L338.0,278.1 L340.0,277.6 L342.0,277.0 L344.0,276.4 L346.0,275.7 L348.0,275.0 L350.0,274.2 L352.0,273.3 L354.0,272.3 L355.8,271.3" stroke="#c96c73" stroke-width="1.35"/>
<path d="M249.5,290.7 L290.0,290.7 L292.0,290.6 L294.0,290.6 L296.0,290.5 L298.0,290.4 L300.0,290.3 L302.0,290.2 L304.0,290.0 L306.0,289.9 L308.0,289.8 L310.0,289.6 L312.0,289.4 L314.0,289.3 L316.0,289.0 L318.0,288.8 L320.0,288.6 L322.0,288.3 L324.0,288.0 L326.0,287.7 L328.0,287.3 L330.0,286.9 L332.0,286.5 L334.0,286.0 L336.0,285.5 L338.0,284.9 L340.0,284.3 L342.0,283.6 L344.0,282.9 L346.0,282.1 L348.0,281.2 L350.0,280.2 L352.0,279.1 L354.0,278.0 L355.8,276.8" transform="translate(0 -1.2)" stroke="#fbe9eb" stroke-width="1.1"/>
<path d="M249.5,290.7 L290.0,290.7 L292.0,290.6 L294.0,290.6 L296.0,290.5 L298.0,290.4 L300.0,290.3 L302.0,290.2 L304.0,290.0 L306.0,289.9 L308.0,289.8 L310.0,289.6 L312.0,289.4 L314.0,289.3 L316.0,289.0 L318.0,288.8 L320.0,288.6 L322.0,288.3 L324.0,288.0 L326.0,287.7 L328.0,287.3 L330.0,286.9 L332.0,286.5 L334.0,286.0 L336.0,285.5 L338.0,284.9 L340.0,284.3 L342.0,283.6 L344.0,282.9 L346.0,282.1 L348.0,281.2 L350.0,280.2 L352.0,279.1 L354.0,278.0 L355.8,276.8" transform="translate(0 5.0)" stroke="#fcf0f1" stroke-width="1.3"/>
<path d="M249.5,290.7 L290.0,290.7 L292.0,290.6 L294.0,290.6 L296.0,290.5 L298.0,290.4 L300.0,290.3 L302.0,290.2 L304.0,290.0 L306.0,289.9 L308.0,289.8 L310.0,289.6 L312.0,289.4 L314.0,289.3 L316.0,289.0 L318.0,288.8 L320.0,288.6 L322.0,288.3 L324.0,288.0 L326.0,287.7 L328.0,287.3 L330.0,286.9 L332.0,286.5 L334.0,286.0 L336.0,285.5 L338.0,284.9 L340.0,284.3 L342.0,283.6 L344.0,282.9 L346.0,282.1 L348.0,281.2 L350.0,280.2 L352.0,279.1 L354.0,278.0 L355.8,276.8" transform="translate(0 3.8)" stroke="#f7dfe1" stroke-width="1.3"/>
<path d="M249.5,290.7 L290.0,290.7 L292.0,290.6 L294.0,290.6 L296.0,290.5 L298.0,290.4 L300.0,290.3 L302.0,290.2 L304.0,290.0 L306.0,289.9 L308.0,289.8 L310.0,289.6 L312.0,289.4 L314.0,289.3 L316.0,289.0 L318.0,288.8 L320.0,288.6 L322.0,288.3 L324.0,288.0 L326.0,287.7 L328.0,287.3 L330.0,286.9 L332.0,286.5 L334.0,286.0 L336.0,285.5 L338.0,284.9 L340.0,284.3 L342.0,283.6 L344.0,282.9 L346.0,282.1 L348.0,281.2 L350.0,280.2 L352.0,279.1 L354.0,278.0 L355.8,276.8" transform="translate(0 2.6)" stroke="#f1cbce" stroke-width="1.3"/>
<path d="M249.5,290.7 L290.0,290.7 L292.0,290.6 L294.0,290.6 L296.0,290.5 L298.0,290.4 L300.0,290.3 L302.0,290.2 L304.0,290.0 L306.0,289.9 L308.0,289.8 L310.0,289.6 L312.0,289.4 L314.0,289.3 L316.0,289.0 L318.0,288.8 L320.0,288.6 L322.0,288.3 L324.0,288.0 L326.0,287.7 L328.0,287.3 L330.0,286.9 L332.0,286.5 L334.0,286.0 L336.0,285.5 L338.0,284.9 L340.0,284.3 L342.0,283.6 L344.0,282.9 L346.0,282.1 L348.0,281.2 L350.0,280.2 L352.0,279.1 L354.0,278.0 L355.8,276.8" transform="translate(0 1.4)" stroke="#e8b3b7" stroke-width="1.3"/>
<path d="M249.5,290.7 L290.0,290.7 L292.0,290.6 L294.0,290.6 L296.0,290.5 L298.0,290.4 L300.0,290.3 L302.0,290.2 L304.0,290.0 L306.0,289.9 L308.0,289.8 L310.0,289.6 L312.0,289.4 L314.0,289.3 L316.0,289.0 L318.0,288.8 L320.0,288.6 L322.0,288.3 L324.0,288.0 L326.0,287.7 L328.0,287.3 L330.0,286.9 L332.0,286.5 L334.0,286.0 L336.0,285.5 L338.0,284.9 L340.0,284.3 L342.0,283.6 L344.0,282.9 L346.0,282.1 L348.0,281.2 L350.0,280.2 L352.0,279.1 L354.0,278.0 L355.8,276.8" stroke="#c96c73" stroke-width="1.35"/>
<path d="M228.0,298.6 L290.0,298.6 L292.0,298.5 L294.0,298.4 L296.0,298.3 L298.0,298.2 L300.0,298.1 L302.0,298.0 L304.0,297.8 L306.0,297.7 L308.0,297.5 L310.0,297.3 L312.0,297.1 L314.0,296.9 L316.0,296.7 L318.0,296.4 L320.0,296.1 L322.0,295.8 L324.0,295.4 L326.0,295.1 L328.0,294.6 L330.0,294.2 L332.0,293.7 L334.0,293.1 L336.0,292.5 L338.0,291.9 L340.0,291.2 L342.0,290.4 L344.0,289.5 L346.0,288.5 L348.0,287.5 L350.0,286.4 L352.0,285.1 L354.0,283.7 L355.8,282.4" transform="translate(0 -1.2)" stroke="#fbe9eb" stroke-width="1.1"/>
<path d="M228.0,298.6 L290.0,298.6 L292.0,298.5 L294.0,298.4 L296.0,298.3 L298.0,298.2 L300.0,298.1 L302.0,298.0 L304.0,297.8 L306.0,297.7 L308.0,297.5 L310.0,297.3 L312.0,297.1 L314.0,296.9 L316.0,296.7 L318.0,296.4 L320.0,296.1 L322.0,295.8 L324.0,295.4 L326.0,295.1 L328.0,294.6 L330.0,294.2 L332.0,293.7 L334.0,293.1 L336.0,292.5 L338.0,291.9 L340.0,291.2 L342.0,290.4 L344.0,289.5 L346.0,288.5 L348.0,287.5 L350.0,286.4 L352.0,285.1 L354.0,283.7 L355.8,282.4" transform="translate(0 5.0)" stroke="#fcf0f1" stroke-width="1.3"/>
<path d="M228.0,298.6 L290.0,298.6 L292.0,298.5 L294.0,298.4 L296.0,298.3 L298.0,298.2 L300.0,298.1 L302.0,298.0 L304.0,297.8 L306.0,297.7 L308.0,297.5 L310.0,297.3 L312.0,297.1 L314.0,296.9 L316.0,296.7 L318.0,296.4 L320.0,296.1 L322.0,295.8 L324.0,295.4 L326.0,295.1 L328.0,294.6 L330.0,294.2 L332.0,293.7 L334.0,293.1 L336.0,292.5 L338.0,291.9 L340.0,291.2 L342.0,290.4 L344.0,289.5 L346.0,288.5 L348.0,287.5 L350.0,286.4 L352.0,285.1 L354.0,283.7 L355.8,282.4" transform="translate(0 3.8)" stroke="#f7dfe1" stroke-width="1.3"/>
<path d="M228.0,298.6 L290.0,298.6 L292.0,298.5 L294.0,298.4 L296.0,298.3 L298.0,298.2 L300.0,298.1 L302.0,298.0 L304.0,297.8 L306.0,297.7 L308.0,297.5 L310.0,297.3 L312.0,297.1 L314.0,296.9 L316.0,296.7 L318.0,296.4 L320.0,296.1 L322.0,295.8 L324.0,295.4 L326.0,295.1 L328.0,294.6 L330.0,294.2 L332.0,293.7 L334.0,293.1 L336.0,292.5 L338.0,291.9 L340.0,291.2 L342.0,290.4 L344.0,289.5 L346.0,288.5 L348.0,287.5 L350.0,286.4 L352.0,285.1 L354.0,283.7 L355.8,282.4" transform="translate(0 2.6)" stroke="#f1cbce" stroke-width="1.3"/>
<path d="M228.0,298.6 L290.0,298.6 L292.0,298.5 L294.0,298.4 L296.0,298.3 L298.0,298.2 L300.0,298.1 L302.0,298.0 L304.0,297.8 L306.0,297.7 L308.0,297.5 L310.0,297.3 L312.0,297.1 L314.0,296.9 L316.0,296.7 L318.0,296.4 L320.0,296.1 L322.0,295.8 L324.0,295.4 L326.0,295.1 L328.0,294.6 L330.0,294.2 L332.0,293.7 L334.0,293.1 L336.0,292.5 L338.0,291.9 L340.0,291.2 L342.0,290.4 L344.0,289.5 L346.0,288.5 L348.0,287.5 L350.0,286.4 L352.0,285.1 L354.0,283.7 L355.8,282.4" transform="translate(0 1.4)" stroke="#e8b3b7" stroke-width="1.3"/>
<path d="M228.0,298.6 L290.0,298.6 L292.0,298.5 L294.0,298.4 L296.0,298.3 L298.0,298.2 L300.0,298.1 L302.0,298.0 L304.0,297.8 L306.0,297.7 L308.0,297.5 L310.0,297.3 L312.0,297.1 L314.0,296.9 L316.0,296.7 L318.0,296.4 L320.0,296.1 L322.0,295.8 L324.0,295.4 L326.0,295.1 L328.0,294.6 L330.0,294.2 L332.0,293.7 L334.0,293.1 L336.0,292.5 L338.0,291.9 L340.0,291.2 L342.0,290.4 L344.0,289.5 L346.0,288.5 L348.0,287.5 L350.0,286.4 L352.0,285.1 L354.0,283.7 L355.8,282.4" stroke="#c96c73" stroke-width="1.35"/>
<path d="M207.8,307.2 L290.0,307.2 L292.0,307.1 L294.0,307.0 L296.0,306.9 L298.0,306.8 L300.0,306.6 L302.0,306.5 L304.0,306.3 L306.0,306.1 L308.0,306.0 L310.0,305.7 L312.0,305.5 L314.0,305.3 L316.0,305.0 L318.0,304.7 L320.0,304.3 L322.0,304.0 L324.0,303.6 L326.0,303.1 L328.0,302.6 L330.0,302.1 L332.0,301.5 L334.0,300.9 L336.0,300.2 L338.0,299.4 L340.0,298.6 L342.0,297.7 L344.0,296.7 L346.0,295.6 L348.0,294.4 L350.0,293.1 L352.0,291.6 L354.0,290.1 L355.8,288.5" transform="translate(0 -1.2)" stroke="#fbe9eb" stroke-width="1.1"/>
<path d="M207.8,307.2 L290.0,307.2 L292.0,307.1 L294.0,307.0 L296.0,306.9 L298.0,306.8 L300.0,306.6 L302.0,306.5 L304.0,306.3 L306.0,306.1 L308.0,306.0 L310.0,305.7 L312.0,305.5 L314.0,305.3 L316.0,305.0 L318.0,304.7 L320.0,304.3 L322.0,304.0 L324.0,303.6 L326.0,303.1 L328.0,302.6 L330.0,302.1 L332.0,301.5 L334.0,300.9 L336.0,300.2 L338.0,299.4 L340.0,298.6 L342.0,297.7 L344.0,296.7 L346.0,295.6 L348.0,294.4 L350.0,293.1 L352.0,291.6 L354.0,290.1 L355.8,288.5" transform="translate(0 5.0)" stroke="#fcf0f1" stroke-width="1.3"/>
<path d="M207.8,307.2 L290.0,307.2 L292.0,307.1 L294.0,307.0 L296.0,306.9 L298.0,306.8 L300.0,306.6 L302.0,306.5 L304.0,306.3 L306.0,306.1 L308.0,306.0 L310.0,305.7 L312.0,305.5 L314.0,305.3 L316.0,305.0 L318.0,304.7 L320.0,304.3 L322.0,304.0 L324.0,303.6 L326.0,303.1 L328.0,302.6 L330.0,302.1 L332.0,301.5 L334.0,300.9 L336.0,300.2 L338.0,299.4 L340.0,298.6 L342.0,297.7 L344.0,296.7 L346.0,295.6 L348.0,294.4 L350.0,293.1 L352.0,291.6 L354.0,290.1 L355.8,288.5" transform="translate(0 3.8)" stroke="#f7dfe1" stroke-width="1.3"/>
<path d="M207.8,307.2 L290.0,307.2 L292.0,307.1 L294.0,307.0 L296.0,306.9 L298.0,306.8 L300.0,306.6 L302.0,306.5 L304.0,306.3 L306.0,306.1 L308.0,306.0 L310.0,305.7 L312.0,305.5 L314.0,305.3 L316.0,305.0 L318.0,304.7 L320.0,304.3 L322.0,304.0 L324.0,303.6 L326.0,303.1 L328.0,302.6 L330.0,302.1 L332.0,301.5 L334.0,300.9 L336.0,300.2 L338.0,299.4 L340.0,298.6 L342.0,297.7 L344.0,296.7 L346.0,295.6 L348.0,294.4 L350.0,293.1 L352.0,291.6 L354.0,290.1 L355.8,288.5" transform="translate(0 2.6)" stroke="#f1cbce" stroke-width="1.3"/>
<path d="M207.8,307.2 L290.0,307.2 L292.0,307.1 L294.0,307.0 L296.0,306.9 L298.0,306.8 L300.0,306.6 L302.0,306.5 L304.0,306.3 L306.0,306.1 L308.0,306.0 L310.0,305.7 L312.0,305.5 L314.0,305.3 L316.0,305.0 L318.0,304.7 L320.0,304.3 L322.0,304.0 L324.0,303.6 L326.0,303.1 L328.0,302.6 L330.0,302.1 L332.0,301.5 L334.0,300.9 L336.0,300.2 L338.0,299.4 L340.0,298.6 L342.0,297.7 L344.0,296.7 L346.0,295.6 L348.0,294.4 L350.0,293.1 L352.0,291.6 L354.0,290.1 L355.8,288.5" transform="translate(0 1.4)" stroke="#e8b3b7" stroke-width="1.3"/>
<path d="M207.8,307.2 L290.0,307.2 L292.0,307.1 L294.0,307.0 L296.0,306.9 L298.0,306.8 L300.0,306.6 L302.0,306.5 L304.0,306.3 L306.0,306.1 L308.0,306.0 L310.0,305.7 L312.0,305.5 L314.0,305.3 L316.0,305.0 L318.0,304.7 L320.0,304.3 L322.0,304.0 L324.0,303.6 L326.0,303.1 L328.0,302.6 L330.0,302.1 L332.0,301.5 L334.0,300.9 L336.0,300.2 L338.0,299.4 L340.0,298.6 L342.0,297.7 L344.0,296.7 L346.0,295.6 L348.0,294.4 L350.0,293.1 L352.0,291.6 L354.0,290.1 L355.8,288.5" stroke="#c96c73" stroke-width="1.35"/>
<path d="M187.0,316.0 L290.0,316.0 L292.0,315.9 L294.0,315.8 L296.0,315.6 L298.0,315.5 L300.0,315.3 L302.0,315.1 L304.0,315.0 L306.0,314.7 L308.0,314.5 L310.0,314.3 L312.0,314.0 L314.0,313.7 L316.0,313.3 L318.0,313.0 L320.0,312.6 L322.0,312.1 L324.0,311.6 L326.0,311.1 L328.0,310.5 L330.0,309.9 L332.0,309.2 L334.0,308.4 L336.0,307.6 L338.0,306.7 L340.0,305.7 L342.0,304.6 L344.0,303.4 L346.0,302.1 L348.0,300.7 L350.0,299.1 L352.0,297.3 L354.0,295.5 L355.8,293.6" transform="translate(0 -1.2)" stroke="#fbe9eb" stroke-width="1.1"/>
<path d="M187.0,316.0 L290.0,316.0 L292.0,315.9 L294.0,315.8 L296.0,315.6 L298.0,315.5 L300.0,315.3 L302.0,315.1 L304.0,315.0 L306.0,314.7 L308.0,314.5 L310.0,314.3 L312.0,314.0 L314.0,313.7 L316.0,313.3 L318.0,313.0 L320.0,312.6 L322.0,312.1 L324.0,311.6 L326.0,311.1 L328.0,310.5 L330.0,309.9 L332.0,309.2 L334.0,308.4 L336.0,307.6 L338.0,306.7 L340.0,305.7 L342.0,304.6 L344.0,303.4 L346.0,302.1 L348.0,300.7 L350.0,299.1 L352.0,297.3 L354.0,295.5 L355.8,293.6" transform="translate(0 5.0)" stroke="#fcf0f1" stroke-width="1.3"/>
<path d="M187.0,316.0 L290.0,316.0 L292.0,315.9 L294.0,315.8 L296.0,315.6 L298.0,315.5 L300.0,315.3 L302.0,315.1 L304.0,315.0 L306.0,314.7 L308.0,314.5 L310.0,314.3 L312.0,314.0 L314.0,313.7 L316.0,313.3 L318.0,313.0 L320.0,312.6 L322.0,312.1 L324.0,311.6 L326.0,311.1 L328.0,310.5 L330.0,309.9 L332.0,309.2 L334.0,308.4 L336.0,307.6 L338.0,306.7 L340.0,305.7 L342.0,304.6 L344.0,303.4 L346.0,302.1 L348.0,300.7 L350.0,299.1 L352.0,297.3 L354.0,295.5 L355.8,293.6" transform="translate(0 3.8)" stroke="#f7dfe1" stroke-width="1.3"/>
<path d="M187.0,316.0 L290.0,316.0 L292.0,315.9 L294.0,315.8 L296.0,315.6 L298.0,315.5 L300.0,315.3 L302.0,315.1 L304.0,315.0 L306.0,314.7 L308.0,314.5 L310.0,314.3 L312.0,314.0 L314.0,313.7 L316.0,313.3 L318.0,313.0 L320.0,312.6 L322.0,312.1 L324.0,311.6 L326.0,311.1 L328.0,310.5 L330.0,309.9 L332.0,309.2 L334.0,308.4 L336.0,307.6 L338.0,306.7 L340.0,305.7 L342.0,304.6 L344.0,303.4 L346.0,302.1 L348.0,300.7 L350.0,299.1 L352.0,297.3 L354.0,295.5 L355.8,293.6" transform="translate(0 2.6)" stroke="#f1cbce" stroke-width="1.3"/>
<path d="M187.0,316.0 L290.0,316.0 L292.0,315.9 L294.0,315.8 L296.0,315.6 L298.0,315.5 L300.0,315.3 L302.0,315.1 L304.0,315.0 L306.0,314.7 L308.0,314.5 L310.0,314.3 L312.0,314.0 L314.0,313.7 L316.0,313.3 L318.0,313.0 L320.0,312.6 L322.0,312.1 L324.0,311.6 L326.0,311.1 L328.0,310.5 L330.0,309.9 L332.0,309.2 L334.0,308.4 L336.0,307.6 L338.0,306.7 L340.0,305.7 L342.0,304.6 L344.0,303.4 L346.0,302.1 L348.0,300.7 L350.0,299.1 L352.0,297.3 L354.0,295.5 L355.8,293.6" transform="translate(0 1.4)" stroke="#e8b3b7" stroke-width="1.3"/>
<path d="M187.0,316.0 L290.0,316.0 L292.0,315.9 L294.0,315.8 L296.0,315.6 L298.0,315.5 L300.0,315.3 L302.0,315.1 L304.0,315.0 L306.0,314.7 L308.0,314.5 L310.0,314.3 L312.0,314.0 L314.0,313.7 L316.0,313.3 L318.0,313.0 L320.0,312.6 L322.0,312.1 L324.0,311.6 L326.0,311.1 L328.0,310.5 L330.0,309.9 L332.0,309.2 L334.0,308.4 L336.0,307.6 L338.0,306.7 L340.0,305.7 L342.0,304.6 L344.0,303.4 L346.0,302.1 L348.0,300.7 L350.0,299.1 L352.0,297.3 L354.0,295.5 L355.8,293.6" stroke="#c96c73" stroke-width="1.35"/>
<path d="M174.0,325.0 L290.0,325.0 L292.0,324.9 L294.0,324.7 L296.0,324.6 L298.0,324.4 L300.0,324.2 L302.0,324.0 L304.0,323.8 L306.0,323.5 L308.0,323.3 L310.0,323.0 L312.0,322.7 L314.0,322.3 L316.0,321.9 L318.0,321.5 L320.0,321.0 L322.0,320.5 L324.0,320.0 L326.0,319.4 L328.0,318.7 L330.0,318.0 L332.0,317.2 L334.0,316.3 L336.0,315.3 L338.0,314.3 L340.0,313.1 L342.0,311.9 L344.0,310.5 L346.0,309.0 L348.0,307.3 L350.0,305.5 L352.0,303.5 L354.0,301.3 L355.8,299.2" transform="translate(0 -1.2)" stroke="#fbe9eb" stroke-width="1.1"/>
<path d="M174.0,325.0 L290.0,325.0 L292.0,324.9 L294.0,324.7 L296.0,324.6 L298.0,324.4 L300.0,324.2 L302.0,324.0 L304.0,323.8 L306.0,323.5 L308.0,323.3 L310.0,323.0 L312.0,322.7 L314.0,322.3 L316.0,321.9 L318.0,321.5 L320.0,321.0 L322.0,320.5 L324.0,320.0 L326.0,319.4 L328.0,318.7 L330.0,318.0 L332.0,317.2 L334.0,316.3 L336.0,315.3 L338.0,314.3 L340.0,313.1 L342.0,311.9 L344.0,310.5 L346.0,309.0 L348.0,307.3 L350.0,305.5 L352.0,303.5 L354.0,301.3 L355.8,299.2" transform="translate(0 5.0)" stroke="#fcf0f1" stroke-width="1.3"/>
<path d="M174.0,325.0 L290.0,325.0 L292.0,324.9 L294.0,324.7 L296.0,324.6 L298.0,324.4 L300.0,324.2 L302.0,324.0 L304.0,323.8 L306.0,323.5 L308.0,323.3 L310.0,323.0 L312.0,322.7 L314.0,322.3 L316.0,321.9 L318.0,321.5 L320.0,321.0 L322.0,320.5 L324.0,320.0 L326.0,319.4 L328.0,318.7 L330.0,318.0 L332.0,317.2 L334.0,316.3 L336.0,315.3 L338.0,314.3 L340.0,313.1 L342.0,311.9 L344.0,310.5 L346.0,309.0 L348.0,307.3 L350.0,305.5 L352.0,303.5 L354.0,301.3 L355.8,299.2" transform="translate(0 3.8)" stroke="#f7dfe1" stroke-width="1.3"/>
<path d="M174.0,325.0 L290.0,325.0 L292.0,324.9 L294.0,324.7 L296.0,324.6 L298.0,324.4 L300.0,324.2 L302.0,324.0 L304.0,323.8 L306.0,323.5 L308.0,323.3 L310.0,323.0 L312.0,322.7 L314.0,322.3 L316.0,321.9 L318.0,321.5 L320.0,321.0 L322.0,320.5 L324.0,320.0 L326.0,319.4 L328.0,318.7 L330.0,318.0 L332.0,317.2 L334.0,316.3 L336.0,315.3 L338.0,314.3 L340.0,313.1 L342.0,311.9 L344.0,310.5 L346.0,309.0 L348.0,307.3 L350.0,305.5 L352.0,303.5 L354.0,301.3 L355.8,299.2" transform="translate(0 2.6)" stroke="#f1cbce" stroke-width="1.3"/>
<path d="M174.0,325.0 L290.0,325.0 L292.0,324.9 L294.0,324.7 L296.0,324.6 L298.0,324.4 L300.0,324.2 L302.0,324.0 L304.0,323.8 L306.0,323.5 L308.0,323.3 L310.0,323.0 L312.0,322.7 L314.0,322.3 L316.0,321.9 L318.0,321.5 L320.0,321.0 L322.0,320.5 L324.0,320.0 L326.0,319.4 L328.0,318.7 L330.0,318.0 L332.0,317.2 L334.0,316.3 L336.0,315.3 L338.0,314.3 L340.0,313.1 L342.0,311.9 L344.0,310.5 L346.0,309.0 L348.0,307.3 L350.0,305.5 L352.0,303.5 L354.0,301.3 L355.8,299.2" transform="translate(0 1.4)" stroke="#e8b3b7" stroke-width="1.3"/>
<path d="M174.0,325.0 L290.0,325.0 L292.0,324.9 L294.0,324.7 L296.0,324.6 L298.0,324.4 L300.0,324.2 L302.0,324.0 L304.0,323.8 L306.0,323.5 L308.0,323.3 L310.0,323.0 L312.0,322.7 L314.0,322.3 L316.0,321.9 L318.0,321.5 L320.0,321.0 L322.0,320.5 L324.0,320.0 L326.0,319.4 L328.0,318.7 L330.0,318.0 L332.0,317.2 L334.0,316.3 L336.0,315.3 L338.0,314.3 L340.0,313.1 L342.0,311.9 L344.0,310.5 L346.0,309.0 L348.0,307.3 L350.0,305.5 L352.0,303.5 L354.0,301.3 L355.8,299.2" stroke="#c96c73" stroke-width="1.35"/>
</g>
<path d="M172,419.3 L292,419.3 C315,419 335,414 345,405 C350,401 354,398.5 356.2,396" fill="none" transform="translate(0 1.6)" stroke="#f0c6c9" stroke-width="2"/>
<path d="M172,419.3 L292,419.3 C315,419 335,414 345,405 C350,401 354,398.5 356.2,396" fill="none" stroke="#d0666c" stroke-width="1.7"/>
<g fill="none">
<path d="M359.8,283.6 L361.3,282.7 L362.8,281.9 L364.3,281.4 L365.8,280.9 L367.3,280.6 L368.8,280.3 L370.3,280.1 L371.8,280.0 L373.3,279.8 L374.8,279.7 L376.3,279.7 L377.8,279.6 L379.3,279.6 L380.8,279.5 L382.3,279.5 L383.8,279.5 L385.3,279.5 L386.8,279.4 L388.3,279.4 L389.8,279.4 L391.3,279.4 L392.8,279.4 L394.3,279.4 L395.8,279.4 L397.3,279.4 L398.8,279.4 L400.3,279.4 L401.8,279.4 L402.5,279.4" transform="translate(0 -3.5)" stroke="#fefbe8" stroke-width="1.3"/>
<path d="M359.8,283.6 L361.3,282.7 L362.8,281.9 L364.3,281.4 L365.8,280.9 L367.3,280.6 L368.8,280.3 L370.3,280.1 L371.8,280.0 L373.3,279.8 L374.8,279.7 L376.3,279.7 L377.8,279.6 L379.3,279.6 L380.8,279.5 L382.3,279.5 L383.8,279.5 L385.3,279.5 L386.8,279.4 L388.3,279.4 L389.8,279.4 L391.3,279.4 L392.8,279.4 L394.3,279.4 L395.8,279.4 L397.3,279.4 L398.8,279.4 L400.3,279.4 L401.8,279.4 L402.5,279.4" transform="translate(0 -2.4)" stroke="#fbf6cf" stroke-width="1.3"/>
<path d="M359.8,283.6 L361.3,282.7 L362.8,281.9 L364.3,281.4 L365.8,280.9 L367.3,280.6 L368.8,280.3 L370.3,280.1 L371.8,280.0 L373.3,279.8 L374.8,279.7 L376.3,279.7 L377.8,279.6 L379.3,279.6 L380.8,279.5 L382.3,279.5 L383.8,279.5 L385.3,279.5 L386.8,279.4 L388.3,279.4 L389.8,279.4 L391.3,279.4 L392.8,279.4 L394.3,279.4 L395.8,279.4 L397.3,279.4 L398.8,279.4 L400.3,279.4 L401.8,279.4 L402.5,279.4" transform="translate(0 -1.2)" stroke="#f7f0b2" stroke-width="1.4"/>
<path d="M359.8,283.6 L361.3,282.7 L362.8,281.9 L364.3,281.4 L365.8,280.9 L367.3,280.6 L368.8,280.3 L370.3,280.1 L371.8,280.0 L373.3,279.8 L374.8,279.7 L376.3,279.7 L377.8,279.6 L379.3,279.6 L380.8,279.5 L382.3,279.5 L383.8,279.5 L385.3,279.5 L386.8,279.4 L388.3,279.4 L389.8,279.4 L391.3,279.4 L392.8,279.4 L394.3,279.4 L395.8,279.4 L397.3,279.4 L398.8,279.4 L400.3,279.4 L401.8,279.4 L402.5,279.4" transform="translate(0 4.8)" stroke="#fefcec" stroke-width="1.3"/>
<path d="M359.8,283.6 L361.3,282.7 L362.8,281.9 L364.3,281.4 L365.8,280.9 L367.3,280.6 L368.8,280.3 L370.3,280.1 L371.8,280.0 L373.3,279.8 L374.8,279.7 L376.3,279.7 L377.8,279.6 L379.3,279.6 L380.8,279.5 L382.3,279.5 L383.8,279.5 L385.3,279.5 L386.8,279.4 L388.3,279.4 L389.8,279.4 L391.3,279.4 L392.8,279.4 L394.3,279.4 L395.8,279.4 L397.3,279.4 L398.8,279.4 L400.3,279.4 L401.8,279.4 L402.5,279.4" transform="translate(0 3.6)" stroke="#fcf9de" stroke-width="1.3"/>
<path d="M359.8,283.6 L361.3,282.7 L362.8,281.9 L364.3,281.4 L365.8,280.9 L367.3,280.6 L368.8,280.3 L370.3,280.1 L371.8,280.0 L373.3,279.8 L374.8,279.7 L376.3,279.7 L377.8,279.6 L379.3,279.6 L380.8,279.5 L382.3,279.5 L383.8,279.5 L385.3,279.5 L386.8,279.4 L388.3,279.4 L389.8,279.4 L391.3,279.4 L392.8,279.4 L394.3,279.4 L395.8,279.4 L397.3,279.4 L398.8,279.4 L400.3,279.4 L401.8,279.4 L402.5,279.4" transform="translate(0 2.5)" stroke="#fbf6d2" stroke-width="1.3"/>
<path d="M359.8,283.6 L361.3,282.7 L362.8,281.9 L364.3,281.4 L365.8,280.9 L367.3,280.6 L368.8,280.3 L370.3,280.1 L371.8,280.0 L373.3,279.8 L374.8,279.7 L376.3,279.7 L377.8,279.6 L379.3,279.6 L380.8,279.5 L382.3,279.5 L383.8,279.5 L385.3,279.5 L386.8,279.4 L388.3,279.4 L389.8,279.4 L391.3,279.4 L392.8,279.4 L394.3,279.4 L395.8,279.4 L397.3,279.4 L398.8,279.4 L400.3,279.4 L401.8,279.4 L402.5,279.4" transform="translate(0 1.3)" stroke="#f9f3c4" stroke-width="1.4"/>
<path d="M359.8,283.6 L361.3,282.7 L362.8,281.9 L364.3,281.4 L365.8,280.9 L367.3,280.6 L368.8,280.3 L370.3,280.1 L371.8,280.0 L373.3,279.8 L374.8,279.7 L376.3,279.7 L377.8,279.6 L379.3,279.6 L380.8,279.5 L382.3,279.5 L383.8,279.5 L385.3,279.5 L386.8,279.4 L388.3,279.4 L389.8,279.4 L391.3,279.4 L392.8,279.4 L394.3,279.4 L395.8,279.4 L397.3,279.4 L398.8,279.4 L400.3,279.4 L401.8,279.4 L402.5,279.4" stroke="#cfc888" stroke-width="1.1"/>
<path d="M359.8,290.8 L361.3,289.5 L362.8,288.4 L364.3,287.6 L365.8,286.9 L367.3,286.4 L368.8,285.9 L370.3,285.6 L371.8,285.3 L373.3,285.1 L374.8,284.9 L376.3,284.8 L377.8,284.7 L379.3,284.6 L380.8,284.6 L382.3,284.5 L383.8,284.5 L385.3,284.4 L386.8,284.4 L388.3,284.4 L389.8,284.4 L391.3,284.4 L392.8,284.3 L394.3,284.3 L395.8,284.3 L397.3,284.3 L398.8,284.3 L400.3,284.3 L401.8,284.3 L403.3,284.3 L404.8,284.3 L406.3,284.3 L407.8,284.3 L409.3,284.3 L410.8,284.3 L412.3,284.3 L413.8,284.3 L415.3,284.3 L416.8,284.3 L418.3,284.3 L419.8,284.3 L421.3,284.3 L422.8,284.3 L423.8,284.3" transform="translate(0 -3.5)" stroke="#fefbe8" stroke-width="1.3"/>
<path d="M359.8,290.8 L361.3,289.5 L362.8,288.4 L364.3,287.6 L365.8,286.9 L367.3,286.4 L368.8,285.9 L370.3,285.6 L371.8,285.3 L373.3,285.1 L374.8,284.9 L376.3,284.8 L377.8,284.7 L379.3,284.6 L380.8,284.6 L382.3,284.5 L383.8,284.5 L385.3,284.4 L386.8,284.4 L388.3,284.4 L389.8,284.4 L391.3,284.4 L392.8,284.3 L394.3,284.3 L395.8,284.3 L397.3,284.3 L398.8,284.3 L400.3,284.3 L401.8,284.3 L403.3,284.3 L404.8,284.3 L406.3,284.3 L407.8,284.3 L409.3,284.3 L410.8,284.3 L412.3,284.3 L413.8,284.3 L415.3,284.3 L416.8,284.3 L418.3,284.3 L419.8,284.3 L421.3,284.3 L422.8,284.3 L423.8,284.3" transform="translate(0 -2.4)" stroke="#fbf6cf" stroke-width="1.3"/>
<path d="M359.8,290.8 L361.3,289.5 L362.8,288.4 L364.3,287.6 L365.8,286.9 L367.3,286.4 L368.8,285.9 L370.3,285.6 L371.8,285.3 L373.3,285.1 L374.8,284.9 L376.3,284.8 L377.8,284.7 L379.3,284.6 L380.8,284.6 L382.3,284.5 L383.8,284.5 L385.3,284.4 L386.8,284.4 L388.3,284.4 L389.8,284.4 L391.3,284.4 L392.8,284.3 L394.3,284.3 L395.8,284.3 L397.3,284.3 L398.8,284.3 L400.3,284.3 L401.8,284.3 L403.3,284.3 L404.8,284.3 L406.3,284.3 L407.8,284.3 L409.3,284.3 L410.8,284.3 L412.3,284.3 L413.8,284.3 L415.3,284.3 L416.8,284.3 L418.3,284.3 L419.8,284.3 L421.3,284.3 L422.8,284.3 L423.8,284.3" transform="translate(0 -1.2)" stroke="#f7f0b2" stroke-width="1.4"/>
<path d="M359.8,290.8 L361.3,289.5 L362.8,288.4 L364.3,287.6 L365.8,286.9 L367.3,286.4 L368.8,285.9 L370.3,285.6 L371.8,285.3 L373.3,285.1 L374.8,284.9 L376.3,284.8 L377.8,284.7 L379.3,284.6 L380.8,284.6 L382.3,284.5 L383.8,284.5 L385.3,284.4 L386.8,284.4 L388.3,284.4 L389.8,284.4 L391.3,284.4 L392.8,284.3 L394.3,284.3 L395.8,284.3 L397.3,284.3 L398.8,284.3 L400.3,284.3 L401.8,284.3 L403.3,284.3 L404.8,284.3 L406.3,284.3 L407.8,284.3 L409.3,284.3 L410.8,284.3 L412.3,284.3 L413.8,284.3 L415.3,284.3 L416.8,284.3 L418.3,284.3 L419.8,284.3 L421.3,284.3 L422.8,284.3 L423.8,284.3" transform="translate(0 4.8)" stroke="#fefcec" stroke-width="1.3"/>
<path d="M359.8,290.8 L361.3,289.5 L362.8,288.4 L364.3,287.6 L365.8,286.9 L367.3,286.4 L368.8,285.9 L370.3,285.6 L371.8,285.3 L373.3,285.1 L374.8,284.9 L376.3,284.8 L377.8,284.7 L379.3,284.6 L380.8,284.6 L382.3,284.5 L383.8,284.5 L385.3,284.4 L386.8,284.4 L388.3,284.4 L389.8,284.4 L391.3,284.4 L392.8,284.3 L394.3,284.3 L395.8,284.3 L397.3,284.3 L398.8,284.3 L400.3,284.3 L401.8,284.3 L403.3,284.3 L404.8,284.3 L406.3,284.3 L407.8,284.3 L409.3,284.3 L410.8,284.3 L412.3,284.3 L413.8,284.3 L415.3,284.3 L416.8,284.3 L418.3,284.3 L419.8,284.3 L421.3,284.3 L422.8,284.3 L423.8,284.3" transform="translate(0 3.6)" stroke="#fcf9de" stroke-width="1.3"/>
<path d="M359.8,290.8 L361.3,289.5 L362.8,288.4 L364.3,287.6 L365.8,286.9 L367.3,286.4 L368.8,285.9 L370.3,285.6 L371.8,285.3 L373.3,285.1 L374.8,284.9 L376.3,284.8 L377.8,284.7 L379.3,284.6 L380.8,284.6 L382.3,284.5 L383.8,284.5 L385.3,284.4 L386.8,284.4 L388.3,284.4 L389.8,284.4 L391.3,284.4 L392.8,284.3 L394.3,284.3 L395.8,284.3 L397.3,284.3 L398.8,284.3 L400.3,284.3 L401.8,284.3 L403.3,284.3 L404.8,284.3 L406.3,284.3 L407.8,284.3 L409.3,284.3 L410.8,284.3 L412.3,284.3 L413.8,284.3 L415.3,284.3 L416.8,284.3 L418.3,284.3 L419.8,284.3 L421.3,284.3 L422.8,284.3 L423.8,284.3" transform="translate(0 2.5)" stroke="#fbf6d2" stroke-width="1.3"/>
<path d="M359.8,290.8 L361.3,289.5 L362.8,288.4 L364.3,287.6 L365.8,286.9 L367.3,286.4 L368.8,285.9 L370.3,285.6 L371.8,285.3 L373.3,285.1 L374.8,284.9 L376.3,284.8 L377.8,284.7 L379.3,284.6 L380.8,284.6 L382.3,284.5 L383.8,284.5 L385.3,284.4 L386.8,284.4 L388.3,284.4 L389.8,284.4 L391.3,284.4 L392.8,284.3 L394.3,284.3 L395.8,284.3 L397.3,284.3 L398.8,284.3 L400.3,284.3 L401.8,284.3 L403.3,284.3 L404.8,284.3 L406.3,284.3 L407.8,284.3 L409.3,284.3 L410.8,284.3 L412.3,284.3 L413.8,284.3 L415.3,284.3 L416.8,284.3 L418.3,284.3 L419.8,284.3 L421.3,284.3 L422.8,284.3 L423.8,284.3" transform="translate(0 1.3)" stroke="#f9f3c4" stroke-width="1.4"/>
<path d="M359.8,290.8 L361.3,289.5 L362.8,288.4 L364.3,287.6 L365.8,286.9 L367.3,286.4 L368.8,285.9 L370.3,285.6 L371.8,285.3 L373.3,285.1 L374.8,284.9 L376.3,284.8 L377.8,284.7 L379.3,284.6 L380.8,284.6 L382.3,284.5 L383.8,284.5 L385.3,284.4 L386.8,284.4 L388.3,284.4 L389.8,284.4 L391.3,284.4 L392.8,284.3 L394.3,284.3 L395.8,284.3 L397.3,284.3 L398.8,284.3 L400.3,284.3 L401.8,284.3 L403.3,284.3 L404.8,284.3 L406.3,284.3 L407.8,284.3 L409.3,284.3 L410.8,284.3 L412.3,284.3 L413.8,284.3 L415.3,284.3 L416.8,284.3 L418.3,284.3 L419.8,284.3 L421.3,284.3 L422.8,284.3 L423.8,284.3" stroke="#cfc888" stroke-width="1.1"/>
<path d="M359.8,298.1 L361.3,296.6 L362.8,295.4 L364.3,294.4 L365.8,293.6 L367.3,293.0 L368.8,292.5 L370.3,292.0 L371.8,291.7 L373.3,291.4 L374.8,291.2 L376.3,291.0 L377.8,290.9 L379.3,290.8 L380.8,290.7 L382.3,290.6 L383.8,290.6 L385.3,290.5 L386.8,290.5 L388.3,290.4 L389.8,290.4 L391.3,290.4 L392.8,290.4 L394.3,290.4 L395.8,290.3 L397.3,290.3 L398.8,290.3 L400.3,290.3 L401.8,290.3 L403.3,290.3 L404.8,290.3 L406.3,290.3 L407.8,290.3 L409.3,290.3 L410.8,290.3 L412.3,290.3 L413.8,290.3 L415.3,290.3 L416.8,290.3 L418.3,290.3 L419.8,290.3 L421.3,290.3 L422.8,290.3 L424.3,290.3 L425.8,290.3 L427.3,290.3 L428.8,290.3 L430.3,290.3 L431.8,290.3 L433.3,290.3 L434.8,290.3 L436.3,290.3 L437.8,290.3 L439.3,290.3 L440.8,290.3 L442.3,290.3 L443.8,290.3 L445.0,290.3" transform="translate(0 -3.5)" stroke="#fefbe8" stroke-width="1.3"/>
<path d="M359.8,298.1 L361.3,296.6 L362.8,295.4 L364.3,294.4 L365.8,293.6 L367.3,293.0 L368.8,292.5 L370.3,292.0 L371.8,291.7 L373.3,291.4 L374.8,291.2 L376.3,291.0 L377.8,290.9 L379.3,290.8 L380.8,290.7 L382.3,290.6 L383.8,290.6 L385.3,290.5 L386.8,290.5 L388.3,290.4 L389.8,290.4 L391.3,290.4 L392.8,290.4 L394.3,290.4 L395.8,290.3 L397.3,290.3 L398.8,290.3 L400.3,290.3 L401.8,290.3 L403.3,290.3 L404.8,290.3 L406.3,290.3 L407.8,290.3 L409.3,290.3 L410.8,290.3 L412.3,290.3 L413.8,290.3 L415.3,290.3 L416.8,290.3 L418.3,290.3 L419.8,290.3 L421.3,290.3 L422.8,290.3 L424.3,290.3 L425.8,290.3 L427.3,290.3 L428.8,290.3 L430.3,290.3 L431.8,290.3 L433.3,290.3 L434.8,290.3 L436.3,290.3 L437.8,290.3 L439.3,290.3 L440.8,290.3 L442.3,290.3 L443.8,290.3 L445.0,290.3" transform="translate(0 -2.4)" stroke="#fbf6cf" stroke-width="1.3"/>
<path d="M359.8,298.1 L361.3,296.6 L362.8,295.4 L364.3,294.4 L365.8,293.6 L367.3,293.0 L368.8,292.5 L370.3,292.0 L371.8,291.7 L373.3,291.4 L374.8,291.2 L376.3,291.0 L377.8,290.9 L379.3,290.8 L380.8,290.7 L382.3,290.6 L383.8,290.6 L385.3,290.5 L386.8,290.5 L388.3,290.4 L389.8,290.4 L391.3,290.4 L392.8,290.4 L394.3,290.4 L395.8,290.3 L397.3,290.3 L398.8,290.3 L400.3,290.3 L401.8,290.3 L403.3,290.3 L404.8,290.3 L406.3,290.3 L407.8,290.3 L409.3,290.3 L410.8,290.3 L412.3,290.3 L413.8,290.3 L415.3,290.3 L416.8,290.3 L418.3,290.3 L419.8,290.3 L421.3,290.3 L422.8,290.3 L424.3,290.3 L425.8,290.3 L427.3,290.3 L428.8,290.3 L430.3,290.3 L431.8,290.3 L433.3,290.3 L434.8,290.3 L436.3,290.3 L437.8,290.3 L439.3,290.3 L440.8,290.3 L442.3,290.3 L443.8,290.3 L445.0,290.3" transform="translate(0 -1.2)" stroke="#f7f0b2" stroke-width="1.4"/>
<path d="M359.8,298.1 L361.3,296.6 L362.8,295.4 L364.3,294.4 L365.8,293.6 L367.3,293.0 L368.8,292.5 L370.3,292.0 L371.8,291.7 L373.3,291.4 L374.8,291.2 L376.3,291.0 L377.8,290.9 L379.3,290.8 L380.8,290.7 L382.3,290.6 L383.8,290.6 L385.3,290.5 L386.8,290.5 L388.3,290.4 L389.8,290.4 L391.3,290.4 L392.8,290.4 L394.3,290.4 L395.8,290.3 L397.3,290.3 L398.8,290.3 L400.3,290.3 L401.8,290.3 L403.3,290.3 L404.8,290.3 L406.3,290.3 L407.8,290.3 L409.3,290.3 L410.8,290.3 L412.3,290.3 L413.8,290.3 L415.3,290.3 L416.8,290.3 L418.3,290.3 L419.8,290.3 L421.3,290.3 L422.8,290.3 L424.3,290.3 L425.8,290.3 L427.3,290.3 L428.8,290.3 L430.3,290.3 L431.8,290.3 L433.3,290.3 L434.8,290.3 L436.3,290.3 L437.8,290.3 L439.3,290.3 L440.8,290.3 L442.3,290.3 L443.8,290.3 L445.0,290.3" transform="translate(0 4.8)" stroke="#fefcec" stroke-width="1.3"/>
<path d="M359.8,298.1 L361.3,296.6 L362.8,295.4 L364.3,294.4 L365.8,293.6 L367.3,293.0 L368.8,292.5 L370.3,292.0 L371.8,291.7 L373.3,291.4 L374.8,291.2 L376.3,291.0 L377.8,290.9 L379.3,290.8 L380.8,290.7 L382.3,290.6 L383.8,290.6 L385.3,290.5 L386.8,290.5 L388.3,290.4 L389.8,290.4 L391.3,290.4 L392.8,290.4 L394.3,290.4 L395.8,290.3 L397.3,290.3 L398.8,290.3 L400.3,290.3 L401.8,290.3 L403.3,290.3 L404.8,290.3 L406.3,290.3 L407.8,290.3 L409.3,290.3 L410.8,290.3 L412.3,290.3 L413.8,290.3 L415.3,290.3 L416.8,290.3 L418.3,290.3 L419.8,290.3 L421.3,290.3 L422.8,290.3 L424.3,290.3 L425.8,290.3 L427.3,290.3 L428.8,290.3 L430.3,290.3 L431.8,290.3 L433.3,290.3 L434.8,290.3 L436.3,290.3 L437.8,290.3 L439.3,290.3 L440.8,290.3 L442.3,290.3 L443.8,290.3 L445.0,290.3" transform="translate(0 3.6)" stroke="#fcf9de" stroke-width="1.3"/>
<path d="M359.8,298.1 L361.3,296.6 L362.8,295.4 L364.3,294.4 L365.8,293.6 L367.3,293.0 L368.8,292.5 L370.3,292.0 L371.8,291.7 L373.3,291.4 L374.8,291.2 L376.3,291.0 L377.8,290.9 L379.3,290.8 L380.8,290.7 L382.3,290.6 L383.8,290.6 L385.3,290.5 L386.8,290.5 L388.3,290.4 L389.8,290.4 L391.3,290.4 L392.8,290.4 L394.3,290.4 L395.8,290.3 L397.3,290.3 L398.8,290.3 L400.3,290.3 L401.8,290.3 L403.3,290.3 L404.8,290.3 L406.3,290.3 L407.8,290.3 L409.3,290.3 L410.8,290.3 L412.3,290.3 L413.8,290.3 L415.3,290.3 L416.8,290.3 L418.3,290.3 L419.8,290.3 L421.3,290.3 L422.8,290.3 L424.3,290.3 L425.8,290.3 L427.3,290.3 L428.8,290.3 L430.3,290.3 L431.8,290.3 L433.3,290.3 L434.8,290.3 L436.3,290.3 L437.8,290.3 L439.3,290.3 L440.8,290.3 L442.3,290.3 L443.8,290.3 L445.0,290.3" transform="translate(0 2.5)" stroke="#fbf6d2" stroke-width="1.3"/>
<path d="M359.8,298.1 L361.3,296.6 L362.8,295.4 L364.3,294.4 L365.8,293.6 L367.3,293.0 L368.8,292.5 L370.3,292.0 L371.8,291.7 L373.3,291.4 L374.8,291.2 L376.3,291.0 L377.8,290.9 L379.3,290.8 L380.8,290.7 L382.3,290.6 L383.8,290.6 L385.3,290.5 L386.8,290.5 L388.3,290.4 L389.8,290.4 L391.3,290.4 L392.8,290.4 L394.3,290.4 L395.8,290.3 L397.3,290.3 L398.8,290.3 L400.3,290.3 L401.8,290.3 L403.3,290.3 L404.8,290.3 L406.3,290.3 L407.8,290.3 L409.3,290.3 L410.8,290.3 L412.3,290.3 L413.8,290.3 L415.3,290.3 L416.8,290.3 L418.3,290.3 L419.8,290.3 L421.3,290.3 L422.8,290.3 L424.3,290.3 L425.8,290.3 L427.3,290.3 L428.8,290.3 L430.3,290.3 L431.8,290.3 L433.3,290.3 L434.8,290.3 L436.3,290.3 L437.8,290.3 L439.3,290.3 L440.8,290.3 L442.3,290.3 L443.8,290.3 L445.0,290.3" transform="translate(0 1.3)" stroke="#f9f3c4" stroke-width="1.4"/>
<path d="M359.8,298.1 L361.3,296.6 L362.8,295.4 L364.3,294.4 L365.8,293.6 L367.3,293.0 L368.8,292.5 L370.3,292.0 L371.8,291.7 L373.3,291.4 L374.8,291.2 L376.3,291.0 L377.8,290.9 L379.3,290.8 L380.8,290.7 L382.3,290.6 L383.8,290.6 L385.3,290.5 L386.8,290.5 L388.3,290.4 L389.8,290.4 L391.3,290.4 L392.8,290.4 L394.3,290.4 L395.8,290.3 L397.3,290.3 L398.8,290.3 L400.3,290.3 L401.8,290.3 L403.3,290.3 L404.8,290.3 L406.3,290.3 L407.8,290.3 L409.3,290.3 L410.8,290.3 L412.3,290.3 L413.8,290.3 L415.3,290.3 L416.8,290.3 L418.3,290.3 L419.8,290.3 L421.3,290.3 L422.8,290.3 L424.3,290.3 L425.8,290.3 L427.3,290.3 L428.8,290.3 L430.3,290.3 L431.8,290.3 L433.3,290.3 L434.8,290.3 L436.3,290.3 L437.8,290.3 L439.3,290.3 L440.8,290.3 L442.3,290.3 L443.8,290.3 L445.0,290.3" stroke="#cfc888" stroke-width="1.1"/>
<path d="M359.8,306.1 L361.3,304.5 L362.8,303.2 L364.3,302.1 L365.8,301.2 L367.3,300.5 L368.8,299.9 L370.3,299.4 L371.8,299.0 L373.3,298.7 L374.8,298.4 L376.3,298.2 L377.8,298.0 L379.3,297.9 L380.8,297.7 L382.3,297.6 L383.8,297.6 L385.3,297.5 L386.8,297.4 L388.3,297.4 L389.8,297.4 L391.3,297.3 L392.8,297.3 L394.3,297.3 L395.8,297.3 L397.3,297.3 L398.8,297.2 L400.3,297.2 L401.8,297.2 L403.3,297.2 L404.8,297.2 L406.3,297.2 L407.8,297.2 L409.3,297.2 L410.8,297.2 L412.3,297.2 L413.8,297.2 L415.3,297.2 L416.8,297.2 L418.3,297.2 L419.8,297.2 L421.3,297.2 L422.8,297.2 L424.3,297.2 L425.8,297.2 L427.3,297.2 L428.8,297.2 L430.3,297.2 L431.8,297.2 L433.3,297.2 L434.8,297.2 L436.3,297.2 L437.8,297.2 L439.3,297.2 L440.8,297.2 L442.3,297.2 L443.8,297.2 L445.3,297.2 L446.8,297.2 L448.3,297.2 L449.8,297.2 L451.3,297.2 L452.8,297.2 L454.3,297.2 L455.8,297.2 L457.3,297.2 L458.8,297.2 L460.3,297.2 L461.8,297.2 L463.3,297.2 L464.8,297.2 L465.8,297.2" transform="translate(0 -3.5)" stroke="#fefbe8" stroke-width="1.3"/>
<path d="M359.8,306.1 L361.3,304.5 L362.8,303.2 L364.3,302.1 L365.8,301.2 L367.3,300.5 L368.8,299.9 L370.3,299.4 L371.8,299.0 L373.3,298.7 L374.8,298.4 L376.3,298.2 L377.8,298.0 L379.3,297.9 L380.8,297.7 L382.3,297.6 L383.8,297.6 L385.3,297.5 L386.8,297.4 L388.3,297.4 L389.8,297.4 L391.3,297.3 L392.8,297.3 L394.3,297.3 L395.8,297.3 L397.3,297.3 L398.8,297.2 L400.3,297.2 L401.8,297.2 L403.3,297.2 L404.8,297.2 L406.3,297.2 L407.8,297.2 L409.3,297.2 L410.8,297.2 L412.3,297.2 L413.8,297.2 L415.3,297.2 L416.8,297.2 L418.3,297.2 L419.8,297.2 L421.3,297.2 L422.8,297.2 L424.3,297.2 L425.8,297.2 L427.3,297.2 L428.8,297.2 L430.3,297.2 L431.8,297.2 L433.3,297.2 L434.8,297.2 L436.3,297.2 L437.8,297.2 L439.3,297.2 L440.8,297.2 L442.3,297.2 L443.8,297.2 L445.3,297.2 L446.8,297.2 L448.3,297.2 L449.8,297.2 L451.3,297.2 L452.8,297.2 L454.3,297.2 L455.8,297.2 L457.3,297.2 L458.8,297.2 L460.3,297.2 L461.8,297.2 L463.3,297.2 L464.8,297.2 L465.8,297.2" transform="translate(0 -2.4)" stroke="#fbf6cf" stroke-width="1.3"/>
<path d="M359.8,306.1 L361.3,304.5 L362.8,303.2 L364.3,302.1 L365.8,301.2 L367.3,300.5 L368.8,299.9 L370.3,299.4 L371.8,299.0 L373.3,298.7 L374.8,298.4 L376.3,298.2 L377.8,298.0 L379.3,297.9 L380.8,297.7 L382.3,297.6 L383.8,297.6 L385.3,297.5 L386.8,297.4 L388.3,297.4 L389.8,297.4 L391.3,297.3 L392.8,297.3 L394.3,297.3 L395.8,297.3 L397.3,297.3 L398.8,297.2 L400.3,297.2 L401.8,297.2 L403.3,297.2 L404.8,297.2 L406.3,297.2 L407.8,297.2 L409.3,297.2 L410.8,297.2 L412.3,297.2 L413.8,297.2 L415.3,297.2 L416.8,297.2 L418.3,297.2 L419.8,297.2 L421.3,297.2 L422.8,297.2 L424.3,297.2 L425.8,297.2 L427.3,297.2 L428.8,297.2 L430.3,297.2 L431.8,297.2 L433.3,297.2 L434.8,297.2 L436.3,297.2 L437.8,297.2 L439.3,297.2 L440.8,297.2 L442.3,297.2 L443.8,297.2 L445.3,297.2 L446.8,297.2 L448.3,297.2 L449.8,297.2 L451.3,297.2 L452.8,297.2 L454.3,297.2 L455.8,297.2 L457.3,297.2 L458.8,297.2 L460.3,297.2 L461.8,297.2 L463.3,297.2 L464.8,297.2 L465.8,297.2" transform="translate(0 -1.2)" stroke="#f7f0b2" stroke-width="1.4"/>
<path d="M359.8,306.1 L361.3,304.5 L362.8,303.2 L364.3,302.1 L365.8,301.2 L367.3,300.5 L368.8,299.9 L370.3,299.4 L371.8,299.0 L373.3,298.7 L374.8,298.4 L376.3,298.2 L377.8,298.0 L379.3,297.9 L380.8,297.7 L382.3,297.6 L383.8,297.6 L385.3,297.5 L386.8,297.4 L388.3,297.4 L389.8,297.4 L391.3,297.3 L392.8,297.3 L394.3,297.3 L395.8,297.3 L397.3,297.3 L398.8,297.2 L400.3,297.2 L401.8,297.2 L403.3,297.2 L404.8,297.2 L406.3,297.2 L407.8,297.2 L409.3,297.2 L410.8,297.2 L412.3,297.2 L413.8,297.2 L415.3,297.2 L416.8,297.2 L418.3,297.2 L419.8,297.2 L421.3,297.2 L422.8,297.2 L424.3,297.2 L425.8,297.2 L427.3,297.2 L428.8,297.2 L430.3,297.2 L431.8,297.2 L433.3,297.2 L434.8,297.2 L436.3,297.2 L437.8,297.2 L439.3,297.2 L440.8,297.2 L442.3,297.2 L443.8,297.2 L445.3,297.2 L446.8,297.2 L448.3,297.2 L449.8,297.2 L451.3,297.2 L452.8,297.2 L454.3,297.2 L455.8,297.2 L457.3,297.2 L458.8,297.2 L460.3,297.2 L461.8,297.2 L463.3,297.2 L464.8,297.2 L465.8,297.2" transform="translate(0 4.8)" stroke="#fefcec" stroke-width="1.3"/>
<path d="M359.8,306.1 L361.3,304.5 L362.8,303.2 L364.3,302.1 L365.8,301.2 L367.3,300.5 L368.8,299.9 L370.3,299.4 L371.8,299.0 L373.3,298.7 L374.8,298.4 L376.3,298.2 L377.8,298.0 L379.3,297.9 L380.8,297.7 L382.3,297.6 L383.8,297.6 L385.3,297.5 L386.8,297.4 L388.3,297.4 L389.8,297.4 L391.3,297.3 L392.8,297.3 L394.3,297.3 L395.8,297.3 L397.3,297.3 L398.8,297.2 L400.3,297.2 L401.8,297.2 L403.3,297.2 L404.8,297.2 L406.3,297.2 L407.8,297.2 L409.3,297.2 L410.8,297.2 L412.3,297.2 L413.8,297.2 L415.3,297.2 L416.8,297.2 L418.3,297.2 L419.8,297.2 L421.3,297.2 L422.8,297.2 L424.3,297.2 L425.8,297.2 L427.3,297.2 L428.8,297.2 L430.3,297.2 L431.8,297.2 L433.3,297.2 L434.8,297.2 L436.3,297.2 L437.8,297.2 L439.3,297.2 L440.8,297.2 L442.3,297.2 L443.8,297.2 L445.3,297.2 L446.8,297.2 L448.3,297.2 L449.8,297.2 L451.3,297.2 L452.8,297.2 L454.3,297.2 L455.8,297.2 L457.3,297.2 L458.8,297.2 L460.3,297.2 L461.8,297.2 L463.3,297.2 L464.8,297.2 L465.8,297.2" transform="translate(0 3.6)" stroke="#fcf9de" stroke-width="1.3"/>
<path d="M359.8,306.1 L361.3,304.5 L362.8,303.2 L364.3,302.1 L365.8,301.2 L367.3,300.5 L368.8,299.9 L370.3,299.4 L371.8,299.0 L373.3,298.7 L374.8,298.4 L376.3,298.2 L377.8,298.0 L379.3,297.9 L380.8,297.7 L382.3,297.6 L383.8,297.6 L385.3,297.5 L386.8,297.4 L388.3,297.4 L389.8,297.4 L391.3,297.3 L392.8,297.3 L394.3,297.3 L395.8,297.3 L397.3,297.3 L398.8,297.2 L400.3,297.2 L401.8,297.2 L403.3,297.2 L404.8,297.2 L406.3,297.2 L407.8,297.2 L409.3,297.2 L410.8,297.2 L412.3,297.2 L413.8,297.2 L415.3,297.2 L416.8,297.2 L418.3,297.2 L419.8,297.2 L421.3,297.2 L422.8,297.2 L424.3,297.2 L425.8,297.2 L427.3,297.2 L428.8,297.2 L430.3,297.2 L431.8,297.2 L433.3,297.2 L434.8,297.2 L436.3,297.2 L437.8,297.2 L439.3,297.2 L440.8,297.2 L442.3,297.2 L443.8,297.2 L445.3,297.2 L446.8,297.2 L448.3,297.2 L449.8,297.2 L451.3,297.2 L452.8,297.2 L454.3,297.2 L455.8,297.2 L457.3,297.2 L458.8,297.2 L460.3,297.2 L461.8,297.2 L463.3,297.2 L464.8,297.2 L465.8,297.2" transform="translate(0 2.5)" stroke="#fbf6d2" stroke-width="1.3"/>
<path d="M359.8,306.1 L361.3,304.5 L362.8,303.2 L364.3,302.1 L365.8,301.2 L367.3,300.5 L368.8,299.9 L370.3,299.4 L371.8,299.0 L373.3,298.7 L374.8,298.4 L376.3,298.2 L377.8,298.0 L379.3,297.9 L380.8,297.7 L382.3,297.6 L383.8,297.6 L385.3,297.5 L386.8,297.4 L388.3,297.4 L389.8,297.4 L391.3,297.3 L392.8,297.3 L394.3,297.3 L395.8,297.3 L397.3,297.3 L398.8,297.2 L400.3,297.2 L401.8,297.2 L403.3,297.2 L404.8,297.2 L406.3,297.2 L407.8,297.2 L409.3,297.2 L410.8,297.2 L412.3,297.2 L413.8,297.2 L415.3,297.2 L416.8,297.2 L418.3,297.2 L419.8,297.2 L421.3,297.2 L422.8,297.2 L424.3,297.2 L425.8,297.2 L427.3,297.2 L428.8,297.2 L430.3,297.2 L431.8,297.2 L433.3,297.2 L434.8,297.2 L436.3,297.2 L437.8,297.2 L439.3,297.2 L440.8,297.2 L442.3,297.2 L443.8,297.2 L445.3,297.2 L446.8,297.2 L448.3,297.2 L449.8,297.2 L451.3,297.2 L452.8,297.2 L454.3,297.2 L455.8,297.2 L457.3,297.2 L458.8,297.2 L460.3,297.2 L461.8,297.2 L463.3,297.2 L464.8,297.2 L465.8,297.2" transform="translate(0 1.3)" stroke="#f9f3c4" stroke-width="1.4"/>
<path d="M359.8,306.1 L361.3,304.5 L362.8,303.2 L364.3,302.1 L365.8,301.2 L367.3,300.5 L368.8,299.9 L370.3,299.4 L371.8,299.0 L373.3,298.7 L374.8,298.4 L376.3,298.2 L377.8,298.0 L379.3,297.9 L380.8,297.7 L382.3,297.6 L383.8,297.6 L385.3,297.5 L386.8,297.4 L388.3,297.4 L389.8,297.4 L391.3,297.3 L392.8,297.3 L394.3,297.3 L395.8,297.3 L397.3,297.3 L398.8,297.2 L400.3,297.2 L401.8,297.2 L403.3,297.2 L404.8,297.2 L406.3,297.2 L407.8,297.2 L409.3,297.2 L410.8,297.2 L412.3,297.2 L413.8,297.2 L415.3,297.2 L416.8,297.2 L418.3,297.2 L419.8,297.2 L421.3,297.2 L422.8,297.2 L424.3,297.2 L425.8,297.2 L427.3,297.2 L428.8,297.2 L430.3,297.2 L431.8,297.2 L433.3,297.2 L434.8,297.2 L436.3,297.2 L437.8,297.2 L439.3,297.2 L440.8,297.2 L442.3,297.2 L443.8,297.2 L445.3,297.2 L446.8,297.2 L448.3,297.2 L449.8,297.2 L451.3,297.2 L452.8,297.2 L454.3,297.2 L455.8,297.2 L457.3,297.2 L458.8,297.2 L460.3,297.2 L461.8,297.2 L463.3,297.2 L464.8,297.2 L465.8,297.2" stroke="#cfc888" stroke-width="1.1"/>
<path d="M359.8,314.0 L361.3,312.4 L362.8,311.1 L364.3,310.0 L365.8,309.1 L367.3,308.3 L368.8,307.7 L370.3,307.2 L371.8,306.8 L373.3,306.4 L374.8,306.1 L376.3,305.9 L377.8,305.7 L379.3,305.5 L380.8,305.4 L382.3,305.3 L383.8,305.2 L385.3,305.1 L386.8,305.0 L388.3,305.0 L389.8,304.9 L391.3,304.9 L392.8,304.9 L394.3,304.8 L395.8,304.8 L397.3,304.8 L398.8,304.8 L400.3,304.8 L401.8,304.7 L403.3,304.7 L404.8,304.7 L406.3,304.7 L407.8,304.7 L409.3,304.7 L410.8,304.7 L412.3,304.7 L413.8,304.7 L415.3,304.7 L416.8,304.7 L418.3,304.7 L419.8,304.7 L421.3,304.7 L422.8,304.7 L424.3,304.7 L425.8,304.7 L427.3,304.7 L428.8,304.7 L430.3,304.7 L431.8,304.7 L433.3,304.7 L434.8,304.7 L436.3,304.7 L437.8,304.7 L439.3,304.7 L440.8,304.7 L442.3,304.7 L443.8,304.7 L445.3,304.7 L446.8,304.7 L448.3,304.7 L449.8,304.7 L451.3,304.7 L452.8,304.7 L454.3,304.7 L455.8,304.7 L457.3,304.7 L458.8,304.7 L460.3,304.7 L461.8,304.7 L463.3,304.7 L464.8,304.7 L466.3,304.7 L467.8,304.7 L469.3,304.7 L470.8,304.7 L472.3,304.7 L473.8,304.7 L475.3,304.7 L476.8,304.7 L478.3,304.7 L479.8,304.7 L481.3,304.7 L482.8,304.7 L484.3,304.7 L485.8,304.7 L487.3,304.7 L487.6,304.7" transform="translate(0 -3.5)" stroke="#fefbe8" stroke-width="1.3"/>
<path d="M359.8,314.0 L361.3,312.4 L362.8,311.1 L364.3,310.0 L365.8,309.1 L367.3,308.3 L368.8,307.7 L370.3,307.2 L371.8,306.8 L373.3,306.4 L374.8,306.1 L376.3,305.9 L377.8,305.7 L379.3,305.5 L380.8,305.4 L382.3,305.3 L383.8,305.2 L385.3,305.1 L386.8,305.0 L388.3,305.0 L389.8,304.9 L391.3,304.9 L392.8,304.9 L394.3,304.8 L395.8,304.8 L397.3,304.8 L398.8,304.8 L400.3,304.8 L401.8,304.7 L403.3,304.7 L404.8,304.7 L406.3,304.7 L407.8,304.7 L409.3,304.7 L410.8,304.7 L412.3,304.7 L413.8,304.7 L415.3,304.7 L416.8,304.7 L418.3,304.7 L419.8,304.7 L421.3,304.7 L422.8,304.7 L424.3,304.7 L425.8,304.7 L427.3,304.7 L428.8,304.7 L430.3,304.7 L431.8,304.7 L433.3,304.7 L434.8,304.7 L436.3,304.7 L437.8,304.7 L439.3,304.7 L440.8,304.7 L442.3,304.7 L443.8,304.7 L445.3,304.7 L446.8,304.7 L448.3,304.7 L449.8,304.7 L451.3,304.7 L452.8,304.7 L454.3,304.7 L455.8,304.7 L457.3,304.7 L458.8,304.7 L460.3,304.7 L461.8,304.7 L463.3,304.7 L464.8,304.7 L466.3,304.7 L467.8,304.7 L469.3,304.7 L470.8,304.7 L472.3,304.7 L473.8,304.7 L475.3,304.7 L476.8,304.7 L478.3,304.7 L479.8,304.7 L481.3,304.7 L482.8,304.7 L484.3,304.7 L485.8,304.7 L487.3,304.7 L487.6,304.7" transform="translate(0 -2.4)" stroke="#fbf6cf" stroke-width="1.3"/>
<path d="M359.8,314.0 L361.3,312.4 L362.8,311.1 L364.3,310.0 L365.8,309.1 L367.3,308.3 L368.8,307.7 L370.3,307.2 L371.8,306.8 L373.3,306.4 L374.8,306.1 L376.3,305.9 L377.8,305.7 L379.3,305.5 L380.8,305.4 L382.3,305.3 L383.8,305.2 L385.3,305.1 L386.8,305.0 L388.3,305.0 L389.8,304.9 L391.3,304.9 L392.8,304.9 L394.3,304.8 L395.8,304.8 L397.3,304.8 L398.8,304.8 L400.3,304.8 L401.8,304.7 L403.3,304.7 L404.8,304.7 L406.3,304.7 L407.8,304.7 L409.3,304.7 L410.8,304.7 L412.3,304.7 L413.8,304.7 L415.3,304.7 L416.8,304.7 L418.3,304.7 L419.8,304.7 L421.3,304.7 L422.8,304.7 L424.3,304.7 L425.8,304.7 L427.3,304.7 L428.8,304.7 L430.3,304.7 L431.8,304.7 L433.3,304.7 L434.8,304.7 L436.3,304.7 L437.8,304.7 L439.3,304.7 L440.8,304.7 L442.3,304.7 L443.8,304.7 L445.3,304.7 L446.8,304.7 L448.3,304.7 L449.8,304.7 L451.3,304.7 L452.8,304.7 L454.3,304.7 L455.8,304.7 L457.3,304.7 L458.8,304.7 L460.3,304.7 L461.8,304.7 L463.3,304.7 L464.8,304.7 L466.3,304.7 L467.8,304.7 L469.3,304.7 L470.8,304.7 L472.3,304.7 L473.8,304.7 L475.3,304.7 L476.8,304.7 L478.3,304.7 L479.8,304.7 L481.3,304.7 L482.8,304.7 L484.3,304.7 L485.8,304.7 L487.3,304.7 L487.6,304.7" transform="translate(0 -1.2)" stroke="#f7f0b2" stroke-width="1.4"/>
<path d="M359.8,314.0 L361.3,312.4 L362.8,311.1 L364.3,310.0 L365.8,309.1 L367.3,308.3 L368.8,307.7 L370.3,307.2 L371.8,306.8 L373.3,306.4 L374.8,306.1 L376.3,305.9 L377.8,305.7 L379.3,305.5 L380.8,305.4 L382.3,305.3 L383.8,305.2 L385.3,305.1 L386.8,305.0 L388.3,305.0 L389.8,304.9 L391.3,304.9 L392.8,304.9 L394.3,304.8 L395.8,304.8 L397.3,304.8 L398.8,304.8 L400.3,304.8 L401.8,304.7 L403.3,304.7 L404.8,304.7 L406.3,304.7 L407.8,304.7 L409.3,304.7 L410.8,304.7 L412.3,304.7 L413.8,304.7 L415.3,304.7 L416.8,304.7 L418.3,304.7 L419.8,304.7 L421.3,304.7 L422.8,304.7 L424.3,304.7 L425.8,304.7 L427.3,304.7 L428.8,304.7 L430.3,304.7 L431.8,304.7 L433.3,304.7 L434.8,304.7 L436.3,304.7 L437.8,304.7 L439.3,304.7 L440.8,304.7 L442.3,304.7 L443.8,304.7 L445.3,304.7 L446.8,304.7 L448.3,304.7 L449.8,304.7 L451.3,304.7 L452.8,304.7 L454.3,304.7 L455.8,304.7 L457.3,304.7 L458.8,304.7 L460.3,304.7 L461.8,304.7 L463.3,304.7 L464.8,304.7 L466.3,304.7 L467.8,304.7 L469.3,304.7 L470.8,304.7 L472.3,304.7 L473.8,304.7 L475.3,304.7 L476.8,304.7 L478.3,304.7 L479.8,304.7 L481.3,304.7 L482.8,304.7 L484.3,304.7 L485.8,304.7 L487.3,304.7 L487.6,304.7" transform="translate(0 4.8)" stroke="#fefcec" stroke-width="1.3"/>
<path d="M359.8,314.0 L361.3,312.4 L362.8,311.1 L364.3,310.0 L365.8,309.1 L367.3,308.3 L368.8,307.7 L370.3,307.2 L371.8,306.8 L373.3,306.4 L374.8,306.1 L376.3,305.9 L377.8,305.7 L379.3,305.5 L380.8,305.4 L382.3,305.3 L383.8,305.2 L385.3,305.1 L386.8,305.0 L388.3,305.0 L389.8,304.9 L391.3,304.9 L392.8,304.9 L394.3,304.8 L395.8,304.8 L397.3,304.8 L398.8,304.8 L400.3,304.8 L401.8,304.7 L403.3,304.7 L404.8,304.7 L406.3,304.7 L407.8,304.7 L409.3,304.7 L410.8,304.7 L412.3,304.7 L413.8,304.7 L415.3,304.7 L416.8,304.7 L418.3,304.7 L419.8,304.7 L421.3,304.7 L422.8,304.7 L424.3,304.7 L425.8,304.7 L427.3,304.7 L428.8,304.7 L430.3,304.7 L431.8,304.7 L433.3,304.7 L434.8,304.7 L436.3,304.7 L437.8,304.7 L439.3,304.7 L440.8,304.7 L442.3,304.7 L443.8,304.7 L445.3,304.7 L446.8,304.7 L448.3,304.7 L449.8,304.7 L451.3,304.7 L452.8,304.7 L454.3,304.7 L455.8,304.7 L457.3,304.7 L458.8,304.7 L460.3,304.7 L461.8,304.7 L463.3,304.7 L464.8,304.7 L466.3,304.7 L467.8,304.7 L469.3,304.7 L470.8,304.7 L472.3,304.7 L473.8,304.7 L475.3,304.7 L476.8,304.7 L478.3,304.7 L479.8,304.7 L481.3,304.7 L482.8,304.7 L484.3,304.7 L485.8,304.7 L487.3,304.7 L487.6,304.7" transform="translate(0 3.6)" stroke="#fcf9de" stroke-width="1.3"/>
<path d="M359.8,314.0 L361.3,312.4 L362.8,311.1 L364.3,310.0 L365.8,309.1 L367.3,308.3 L368.8,307.7 L370.3,307.2 L371.8,306.8 L373.3,306.4 L374.8,306.1 L376.3,305.9 L377.8,305.7 L379.3,305.5 L380.8,305.4 L382.3,305.3 L383.8,305.2 L385.3,305.1 L386.8,305.0 L388.3,305.0 L389.8,304.9 L391.3,304.9 L392.8,304.9 L394.3,304.8 L395.8,304.8 L397.3,304.8 L398.8,304.8 L400.3,304.8 L401.8,304.7 L403.3,304.7 L404.8,304.7 L406.3,304.7 L407.8,304.7 L409.3,304.7 L410.8,304.7 L412.3,304.7 L413.8,304.7 L415.3,304.7 L416.8,304.7 L418.3,304.7 L419.8,304.7 L421.3,304.7 L422.8,304.7 L424.3,304.7 L425.8,304.7 L427.3,304.7 L428.8,304.7 L430.3,304.7 L431.8,304.7 L433.3,304.7 L434.8,304.7 L436.3,304.7 L437.8,304.7 L439.3,304.7 L440.8,304.7 L442.3,304.7 L443.8,304.7 L445.3,304.7 L446.8,304.7 L448.3,304.7 L449.8,304.7 L451.3,304.7 L452.8,304.7 L454.3,304.7 L455.8,304.7 L457.3,304.7 L458.8,304.7 L460.3,304.7 L461.8,304.7 L463.3,304.7 L464.8,304.7 L466.3,304.7 L467.8,304.7 L469.3,304.7 L470.8,304.7 L472.3,304.7 L473.8,304.7 L475.3,304.7 L476.8,304.7 L478.3,304.7 L479.8,304.7 L481.3,304.7 L482.8,304.7 L484.3,304.7 L485.8,304.7 L487.3,304.7 L487.6,304.7" transform="translate(0 2.5)" stroke="#fbf6d2" stroke-width="1.3"/>
<path d="M359.8,314.0 L361.3,312.4 L362.8,311.1 L364.3,310.0 L365.8,309.1 L367.3,308.3 L368.8,307.7 L370.3,307.2 L371.8,306.8 L373.3,306.4 L374.8,306.1 L376.3,305.9 L377.8,305.7 L379.3,305.5 L380.8,305.4 L382.3,305.3 L383.8,305.2 L385.3,305.1 L386.8,305.0 L388.3,305.0 L389.8,304.9 L391.3,304.9 L392.8,304.9 L394.3,304.8 L395.8,304.8 L397.3,304.8 L398.8,304.8 L400.3,304.8 L401.8,304.7 L403.3,304.7 L404.8,304.7 L406.3,304.7 L407.8,304.7 L409.3,304.7 L410.8,304.7 L412.3,304.7 L413.8,304.7 L415.3,304.7 L416.8,304.7 L418.3,304.7 L419.8,304.7 L421.3,304.7 L422.8,304.7 L424.3,304.7 L425.8,304.7 L427.3,304.7 L428.8,304.7 L430.3,304.7 L431.8,304.7 L433.3,304.7 L434.8,304.7 L436.3,304.7 L437.8,304.7 L439.3,304.7 L440.8,304.7 L442.3,304.7 L443.8,304.7 L445.3,304.7 L446.8,304.7 L448.3,304.7 L449.8,304.7 L451.3,304.7 L452.8,304.7 L454.3,304.7 L455.8,304.7 L457.3,304.7 L458.8,304.7 L460.3,304.7 L461.8,304.7 L463.3,304.7 L464.8,304.7 L466.3,304.7 L467.8,304.7 L469.3,304.7 L470.8,304.7 L472.3,304.7 L473.8,304.7 L475.3,304.7 L476.8,304.7 L478.3,304.7 L479.8,304.7 L481.3,304.7 L482.8,304.7 L484.3,304.7 L485.8,304.7 L487.3,304.7 L487.6,304.7" transform="translate(0 1.3)" stroke="#f9f3c4" stroke-width="1.4"/>
<path d="M359.8,314.0 L361.3,312.4 L362.8,311.1 L364.3,310.0 L365.8,309.1 L367.3,308.3 L368.8,307.7 L370.3,307.2 L371.8,306.8 L373.3,306.4 L374.8,306.1 L376.3,305.9 L377.8,305.7 L379.3,305.5 L380.8,305.4 L382.3,305.3 L383.8,305.2 L385.3,305.1 L386.8,305.0 L388.3,305.0 L389.8,304.9 L391.3,304.9 L392.8,304.9 L394.3,304.8 L395.8,304.8 L397.3,304.8 L398.8,304.8 L400.3,304.8 L401.8,304.7 L403.3,304.7 L404.8,304.7 L406.3,304.7 L407.8,304.7 L409.3,304.7 L410.8,304.7 L412.3,304.7 L413.8,304.7 L415.3,304.7 L416.8,304.7 L418.3,304.7 L419.8,304.7 L421.3,304.7 L422.8,304.7 L424.3,304.7 L425.8,304.7 L427.3,304.7 L428.8,304.7 L430.3,304.7 L431.8,304.7 L433.3,304.7 L434.8,304.7 L436.3,304.7 L437.8,304.7 L439.3,304.7 L440.8,304.7 L442.3,304.7 L443.8,304.7 L445.3,304.7 L446.8,304.7 L448.3,304.7 L449.8,304.7 L451.3,304.7 L452.8,304.7 L454.3,304.7 L455.8,304.7 L457.3,304.7 L458.8,304.7 L460.3,304.7 L461.8,304.7 L463.3,304.7 L464.8,304.7 L466.3,304.7 L467.8,304.7 L469.3,304.7 L470.8,304.7 L472.3,304.7 L473.8,304.7 L475.3,304.7 L476.8,304.7 L478.3,304.7 L479.8,304.7 L481.3,304.7 L482.8,304.7 L484.3,304.7 L485.8,304.7 L487.3,304.7 L487.6,304.7" stroke="#cfc888" stroke-width="1.1"/>
<path d="M359.8,322.0 L361.3,320.6 L362.8,319.4 L364.3,318.4 L365.8,317.6 L367.3,316.9 L368.8,316.3 L370.3,315.8 L371.8,315.4 L373.3,315.1 L374.8,314.8 L376.3,314.5 L377.8,314.3 L379.3,314.2 L380.8,314.0 L382.3,313.9 L383.8,313.8 L385.3,313.7 L386.8,313.7 L388.3,313.6 L389.8,313.6 L391.3,313.5 L392.8,313.5 L394.3,313.5 L395.8,313.4 L397.3,313.4 L398.8,313.4 L400.3,313.4 L401.8,313.4 L403.3,313.4 L404.8,313.3 L406.3,313.3 L407.8,313.3 L409.3,313.3 L410.8,313.3 L412.3,313.3 L413.8,313.3 L415.3,313.3 L416.8,313.3 L418.3,313.3 L419.8,313.3 L421.3,313.3 L422.8,313.3 L424.3,313.3 L425.8,313.3 L427.3,313.3 L428.8,313.3 L430.3,313.3 L431.8,313.3 L433.3,313.3 L434.8,313.3 L436.3,313.3 L437.8,313.3 L439.3,313.3 L440.8,313.3 L442.3,313.3 L443.8,313.3 L445.3,313.3 L446.8,313.3 L448.3,313.3 L449.8,313.3 L451.3,313.3 L452.8,313.3 L454.3,313.3 L455.8,313.3 L457.3,313.3 L458.8,313.3 L460.3,313.3 L461.8,313.3 L463.3,313.3 L464.8,313.3 L466.3,313.3 L467.8,313.3 L469.3,313.3 L470.8,313.3 L472.3,313.3 L473.8,313.3 L475.3,313.3 L476.8,313.3 L478.3,313.3 L479.8,313.3 L481.3,313.3 L482.8,313.3 L484.3,313.3 L485.8,313.3 L487.3,313.3 L488.8,313.3 L490.3,313.3 L491.8,313.3 L493.3,313.3 L494.8,313.3 L496.3,313.3 L497.8,313.3 L499.3,313.3 L500.8,313.3 L502.3,313.3 L503.8,313.3 L505.3,313.3 L506.8,313.3 L508.3,313.3 L508.8,313.3" transform="translate(0 -3.5)" stroke="#fefbe8" stroke-width="1.3"/>
<path d="M359.8,322.0 L361.3,320.6 L362.8,319.4 L364.3,318.4 L365.8,317.6 L367.3,316.9 L368.8,316.3 L370.3,315.8 L371.8,315.4 L373.3,315.1 L374.8,314.8 L376.3,314.5 L377.8,314.3 L379.3,314.2 L380.8,314.0 L382.3,313.9 L383.8,313.8 L385.3,313.7 L386.8,313.7 L388.3,313.6 L389.8,313.6 L391.3,313.5 L392.8,313.5 L394.3,313.5 L395.8,313.4 L397.3,313.4 L398.8,313.4 L400.3,313.4 L401.8,313.4 L403.3,313.4 L404.8,313.3 L406.3,313.3 L407.8,313.3 L409.3,313.3 L410.8,313.3 L412.3,313.3 L413.8,313.3 L415.3,313.3 L416.8,313.3 L418.3,313.3 L419.8,313.3 L421.3,313.3 L422.8,313.3 L424.3,313.3 L425.8,313.3 L427.3,313.3 L428.8,313.3 L430.3,313.3 L431.8,313.3 L433.3,313.3 L434.8,313.3 L436.3,313.3 L437.8,313.3 L439.3,313.3 L440.8,313.3 L442.3,313.3 L443.8,313.3 L445.3,313.3 L446.8,313.3 L448.3,313.3 L449.8,313.3 L451.3,313.3 L452.8,313.3 L454.3,313.3 L455.8,313.3 L457.3,313.3 L458.8,313.3 L460.3,313.3 L461.8,313.3 L463.3,313.3 L464.8,313.3 L466.3,313.3 L467.8,313.3 L469.3,313.3 L470.8,313.3 L472.3,313.3 L473.8,313.3 L475.3,313.3 L476.8,313.3 L478.3,313.3 L479.8,313.3 L481.3,313.3 L482.8,313.3 L484.3,313.3 L485.8,313.3 L487.3,313.3 L488.8,313.3 L490.3,313.3 L491.8,313.3 L493.3,313.3 L494.8,313.3 L496.3,313.3 L497.8,313.3 L499.3,313.3 L500.8,313.3 L502.3,313.3 L503.8,313.3 L505.3,313.3 L506.8,313.3 L508.3,313.3 L508.8,313.3" transform="translate(0 -2.4)" stroke="#fbf6cf" stroke-width="1.3"/>
<path d="M359.8,322.0 L361.3,320.6 L362.8,319.4 L364.3,318.4 L365.8,317.6 L367.3,316.9 L368.8,316.3 L370.3,315.8 L371.8,315.4 L373.3,315.1 L374.8,314.8 L376.3,314.5 L377.8,314.3 L379.3,314.2 L380.8,314.0 L382.3,313.9 L383.8,313.8 L385.3,313.7 L386.8,313.7 L388.3,313.6 L389.8,313.6 L391.3,313.5 L392.8,313.5 L394.3,313.5 L395.8,313.4 L397.3,313.4 L398.8,313.4 L400.3,313.4 L401.8,313.4 L403.3,313.4 L404.8,313.3 L406.3,313.3 L407.8,313.3 L409.3,313.3 L410.8,313.3 L412.3,313.3 L413.8,313.3 L415.3,313.3 L416.8,313.3 L418.3,313.3 L419.8,313.3 L421.3,313.3 L422.8,313.3 L424.3,313.3 L425.8,313.3 L427.3,313.3 L428.8,313.3 L430.3,313.3 L431.8,313.3 L433.3,313.3 L434.8,313.3 L436.3,313.3 L437.8,313.3 L439.3,313.3 L440.8,313.3 L442.3,313.3 L443.8,313.3 L445.3,313.3 L446.8,313.3 L448.3,313.3 L449.8,313.3 L451.3,313.3 L452.8,313.3 L454.3,313.3 L455.8,313.3 L457.3,313.3 L458.8,313.3 L460.3,313.3 L461.8,313.3 L463.3,313.3 L464.8,313.3 L466.3,313.3 L467.8,313.3 L469.3,313.3 L470.8,313.3 L472.3,313.3 L473.8,313.3 L475.3,313.3 L476.8,313.3 L478.3,313.3 L479.8,313.3 L481.3,313.3 L482.8,313.3 L484.3,313.3 L485.8,313.3 L487.3,313.3 L488.8,313.3 L490.3,313.3 L491.8,313.3 L493.3,313.3 L494.8,313.3 L496.3,313.3 L497.8,313.3 L499.3,313.3 L500.8,313.3 L502.3,313.3 L503.8,313.3 L505.3,313.3 L506.8,313.3 L508.3,313.3 L508.8,313.3" transform="translate(0 -1.2)" stroke="#f7f0b2" stroke-width="1.4"/>
<path d="M359.8,322.0 L361.3,320.6 L362.8,319.4 L364.3,318.4 L365.8,317.6 L367.3,316.9 L368.8,316.3 L370.3,315.8 L371.8,315.4 L373.3,315.1 L374.8,314.8 L376.3,314.5 L377.8,314.3 L379.3,314.2 L380.8,314.0 L382.3,313.9 L383.8,313.8 L385.3,313.7 L386.8,313.7 L388.3,313.6 L389.8,313.6 L391.3,313.5 L392.8,313.5 L394.3,313.5 L395.8,313.4 L397.3,313.4 L398.8,313.4 L400.3,313.4 L401.8,313.4 L403.3,313.4 L404.8,313.3 L406.3,313.3 L407.8,313.3 L409.3,313.3 L410.8,313.3 L412.3,313.3 L413.8,313.3 L415.3,313.3 L416.8,313.3 L418.3,313.3 L419.8,313.3 L421.3,313.3 L422.8,313.3 L424.3,313.3 L425.8,313.3 L427.3,313.3 L428.8,313.3 L430.3,313.3 L431.8,313.3 L433.3,313.3 L434.8,313.3 L436.3,313.3 L437.8,313.3 L439.3,313.3 L440.8,313.3 L442.3,313.3 L443.8,313.3 L445.3,313.3 L446.8,313.3 L448.3,313.3 L449.8,313.3 L451.3,313.3 L452.8,313.3 L454.3,313.3 L455.8,313.3 L457.3,313.3 L458.8,313.3 L460.3,313.3 L461.8,313.3 L463.3,313.3 L464.8,313.3 L466.3,313.3 L467.8,313.3 L469.3,313.3 L470.8,313.3 L472.3,313.3 L473.8,313.3 L475.3,313.3 L476.8,313.3 L478.3,313.3 L479.8,313.3 L481.3,313.3 L482.8,313.3 L484.3,313.3 L485.8,313.3 L487.3,313.3 L488.8,313.3 L490.3,313.3 L491.8,313.3 L493.3,313.3 L494.8,313.3 L496.3,313.3 L497.8,313.3 L499.3,313.3 L500.8,313.3 L502.3,313.3 L503.8,313.3 L505.3,313.3 L506.8,313.3 L508.3,313.3 L508.8,313.3" transform="translate(0 4.8)" stroke="#fefcec" stroke-width="1.3"/>
<path d="M359.8,322.0 L361.3,320.6 L362.8,319.4 L364.3,318.4 L365.8,317.6 L367.3,316.9 L368.8,316.3 L370.3,315.8 L371.8,315.4 L373.3,315.1 L374.8,314.8 L376.3,314.5 L377.8,314.3 L379.3,314.2 L380.8,314.0 L382.3,313.9 L383.8,313.8 L385.3,313.7 L386.8,313.7 L388.3,313.6 L389.8,313.6 L391.3,313.5 L392.8,313.5 L394.3,313.5 L395.8,313.4 L397.3,313.4 L398.8,313.4 L400.3,313.4 L401.8,313.4 L403.3,313.4 L404.8,313.3 L406.3,313.3 L407.8,313.3 L409.3,313.3 L410.8,313.3 L412.3,313.3 L413.8,313.3 L415.3,313.3 L416.8,313.3 L418.3,313.3 L419.8,313.3 L421.3,313.3 L422.8,313.3 L424.3,313.3 L425.8,313.3 L427.3,313.3 L428.8,313.3 L430.3,313.3 L431.8,313.3 L433.3,313.3 L434.8,313.3 L436.3,313.3 L437.8,313.3 L439.3,313.3 L440.8,313.3 L442.3,313.3 L443.8,313.3 L445.3,313.3 L446.8,313.3 L448.3,313.3 L449.8,313.3 L451.3,313.3 L452.8,313.3 L454.3,313.3 L455.8,313.3 L457.3,313.3 L458.8,313.3 L460.3,313.3 L461.8,313.3 L463.3,313.3 L464.8,313.3 L466.3,313.3 L467.8,313.3 L469.3,313.3 L470.8,313.3 L472.3,313.3 L473.8,313.3 L475.3,313.3 L476.8,313.3 L478.3,313.3 L479.8,313.3 L481.3,313.3 L482.8,313.3 L484.3,313.3 L485.8,313.3 L487.3,313.3 L488.8,313.3 L490.3,313.3 L491.8,313.3 L493.3,313.3 L494.8,313.3 L496.3,313.3 L497.8,313.3 L499.3,313.3 L500.8,313.3 L502.3,313.3 L503.8,313.3 L505.3,313.3 L506.8,313.3 L508.3,313.3 L508.8,313.3" transform="translate(0 3.6)" stroke="#fcf9de" stroke-width="1.3"/>
<path d="M359.8,322.0 L361.3,320.6 L362.8,319.4 L364.3,318.4 L365.8,317.6 L367.3,316.9 L368.8,316.3 L370.3,315.8 L371.8,315.4 L373.3,315.1 L374.8,314.8 L376.3,314.5 L377.8,314.3 L379.3,314.2 L380.8,314.0 L382.3,313.9 L383.8,313.8 L385.3,313.7 L386.8,313.7 L388.3,313.6 L389.8,313.6 L391.3,313.5 L392.8,313.5 L394.3,313.5 L395.8,313.4 L397.3,313.4 L398.8,313.4 L400.3,313.4 L401.8,313.4 L403.3,313.4 L404.8,313.3 L406.3,313.3 L407.8,313.3 L409.3,313.3 L410.8,313.3 L412.3,313.3 L413.8,313.3 L415.3,313.3 L416.8,313.3 L418.3,313.3 L419.8,313.3 L421.3,313.3 L422.8,313.3 L424.3,313.3 L425.8,313.3 L427.3,313.3 L428.8,313.3 L430.3,313.3 L431.8,313.3 L433.3,313.3 L434.8,313.3 L436.3,313.3 L437.8,313.3 L439.3,313.3 L440.8,313.3 L442.3,313.3 L443.8,313.3 L445.3,313.3 L446.8,313.3 L448.3,313.3 L449.8,313.3 L451.3,313.3 L452.8,313.3 L454.3,313.3 L455.8,313.3 L457.3,313.3 L458.8,313.3 L460.3,313.3 L461.8,313.3 L463.3,313.3 L464.8,313.3 L466.3,313.3 L467.8,313.3 L469.3,313.3 L470.8,313.3 L472.3,313.3 L473.8,313.3 L475.3,313.3 L476.8,313.3 L478.3,313.3 L479.8,313.3 L481.3,313.3 L482.8,313.3 L484.3,313.3 L485.8,313.3 L487.3,313.3 L488.8,313.3 L490.3,313.3 L491.8,313.3 L493.3,313.3 L494.8,313.3 L496.3,313.3 L497.8,313.3 L499.3,313.3 L500.8,313.3 L502.3,313.3 L503.8,313.3 L505.3,313.3 L506.8,313.3 L508.3,313.3 L508.8,313.3" transform="translate(0 2.5)" stroke="#fbf6d2" stroke-width="1.3"/>
<path d="M359.8,322.0 L361.3,320.6 L362.8,319.4 L364.3,318.4 L365.8,317.6 L367.3,316.9 L368.8,316.3 L370.3,315.8 L371.8,315.4 L373.3,315.1 L374.8,314.8 L376.3,314.5 L377.8,314.3 L379.3,314.2 L380.8,314.0 L382.3,313.9 L383.8,313.8 L385.3,313.7 L386.8,313.7 L388.3,313.6 L389.8,313.6 L391.3,313.5 L392.8,313.5 L394.3,313.5 L395.8,313.4 L397.3,313.4 L398.8,313.4 L400.3,313.4 L401.8,313.4 L403.3,313.4 L404.8,313.3 L406.3,313.3 L407.8,313.3 L409.3,313.3 L410.8,313.3 L412.3,313.3 L413.8,313.3 L415.3,313.3 L416.8,313.3 L418.3,313.3 L419.8,313.3 L421.3,313.3 L422.8,313.3 L424.3,313.3 L425.8,313.3 L427.3,313.3 L428.8,313.3 L430.3,313.3 L431.8,313.3 L433.3,313.3 L434.8,313.3 L436.3,313.3 L437.8,313.3 L439.3,313.3 L440.8,313.3 L442.3,313.3 L443.8,313.3 L445.3,313.3 L446.8,313.3 L448.3,313.3 L449.8,313.3 L451.3,313.3 L452.8,313.3 L454.3,313.3 L455.8,313.3 L457.3,313.3 L458.8,313.3 L460.3,313.3 L461.8,313.3 L463.3,313.3 L464.8,313.3 L466.3,313.3 L467.8,313.3 L469.3,313.3 L470.8,313.3 L472.3,313.3 L473.8,313.3 L475.3,313.3 L476.8,313.3 L478.3,313.3 L479.8,313.3 L481.3,313.3 L482.8,313.3 L484.3,313.3 L485.8,313.3 L487.3,313.3 L488.8,313.3 L490.3,313.3 L491.8,313.3 L493.3,313.3 L494.8,313.3 L496.3,313.3 L497.8,313.3 L499.3,313.3 L500.8,313.3 L502.3,313.3 L503.8,313.3 L505.3,313.3 L506.8,313.3 L508.3,313.3 L508.8,313.3" transform="translate(0 1.3)" stroke="#f9f3c4" stroke-width="1.4"/>
<path d="M359.8,322.0 L361.3,320.6 L362.8,319.4 L364.3,318.4 L365.8,317.6 L367.3,316.9 L368.8,316.3 L370.3,315.8 L371.8,315.4 L373.3,315.1 L374.8,314.8 L376.3,314.5 L377.8,314.3 L379.3,314.2 L380.8,314.0 L382.3,313.9 L383.8,313.8 L385.3,313.7 L386.8,313.7 L388.3,313.6 L389.8,313.6 L391.3,313.5 L392.8,313.5 L394.3,313.5 L395.8,313.4 L397.3,313.4 L398.8,313.4 L400.3,313.4 L401.8,313.4 L403.3,313.4 L404.8,313.3 L406.3,313.3 L407.8,313.3 L409.3,313.3 L410.8,313.3 L412.3,313.3 L413.8,313.3 L415.3,313.3 L416.8,313.3 L418.3,313.3 L419.8,313.3 L421.3,313.3 L422.8,313.3 L424.3,313.3 L425.8,313.3 L427.3,313.3 L428.8,313.3 L430.3,313.3 L431.8,313.3 L433.3,313.3 L434.8,313.3 L436.3,313.3 L437.8,313.3 L439.3,313.3 L440.8,313.3 L442.3,313.3 L443.8,313.3 L445.3,313.3 L446.8,313.3 L448.3,313.3 L449.8,313.3 L451.3,313.3 L452.8,313.3 L454.3,313.3 L455.8,313.3 L457.3,313.3 L458.8,313.3 L460.3,313.3 L461.8,313.3 L463.3,313.3 L464.8,313.3 L466.3,313.3 L467.8,313.3 L469.3,313.3 L470.8,313.3 L472.3,313.3 L473.8,313.3 L475.3,313.3 L476.8,313.3 L478.3,313.3 L479.8,313.3 L481.3,313.3 L482.8,313.3 L484.3,313.3 L485.8,313.3 L487.3,313.3 L488.8,313.3 L490.3,313.3 L491.8,313.3 L493.3,313.3 L494.8,313.3 L496.3,313.3 L497.8,313.3 L499.3,313.3 L500.8,313.3 L502.3,313.3 L503.8,313.3 L505.3,313.3 L506.8,313.3 L508.3,313.3 L508.8,313.3" stroke="#cfc888" stroke-width="1.1"/>
<path d="M359.8,330.0 L361.3,328.8 L362.8,327.7 L364.3,326.9 L365.8,326.1 L367.3,325.5 L368.8,324.9 L370.3,324.5 L371.8,324.1 L373.3,323.8 L374.8,323.5 L376.3,323.3 L377.8,323.1 L379.3,322.9 L380.8,322.8 L382.3,322.7 L383.8,322.6 L385.3,322.5 L386.8,322.4 L388.3,322.3 L389.8,322.3 L391.3,322.2 L392.8,322.2 L394.3,322.2 L395.8,322.1 L397.3,322.1 L398.8,322.1 L400.3,322.1 L401.8,322.1 L403.3,322.1 L404.8,322.1 L406.3,322.0 L407.8,322.0 L409.3,322.0 L410.8,322.0 L412.3,322.0 L413.8,322.0 L415.3,322.0 L416.8,322.0 L418.3,322.0 L419.8,322.0 L421.3,322.0 L422.8,322.0 L424.3,322.0 L425.8,322.0 L427.3,322.0 L428.8,322.0 L430.3,322.0 L431.8,322.0 L433.3,322.0 L434.8,322.0 L436.3,322.0 L437.8,322.0 L439.3,322.0 L440.8,322.0 L442.3,322.0 L443.8,322.0 L445.3,322.0 L446.8,322.0 L448.3,322.0 L449.8,322.0 L451.3,322.0 L452.8,322.0 L454.3,322.0 L455.8,322.0 L457.3,322.0 L458.8,322.0 L460.3,322.0 L461.8,322.0 L463.3,322.0 L464.8,322.0 L466.3,322.0 L467.8,322.0 L469.3,322.0 L470.8,322.0 L472.3,322.0 L473.8,322.0 L475.3,322.0 L476.8,322.0 L478.3,322.0 L479.8,322.0 L481.3,322.0 L482.8,322.0 L484.3,322.0 L485.8,322.0 L487.3,322.0 L488.8,322.0 L490.3,322.0 L491.8,322.0 L493.3,322.0 L494.8,322.0 L496.3,322.0 L497.8,322.0 L499.3,322.0 L500.8,322.0 L502.3,322.0 L503.8,322.0 L505.3,322.0 L506.8,322.0 L508.3,322.0 L509.8,322.0 L511.3,322.0 L512.8,322.0 L514.3,322.0 L515.8,322.0 L517.3,322.0 L518.8,322.0 L520.3,322.0 L521.8,322.0 L523.3,322.0 L524.8,322.0 L526.3,322.0 L527.8,322.0 L529.3,322.0 L530.3,322.0" transform="translate(0 -3.5)" stroke="#fefbe8" stroke-width="1.3"/>
<path d="M359.8,330.0 L361.3,328.8 L362.8,327.7 L364.3,326.9 L365.8,326.1 L367.3,325.5 L368.8,324.9 L370.3,324.5 L371.8,324.1 L373.3,323.8 L374.8,323.5 L376.3,323.3 L377.8,323.1 L379.3,322.9 L380.8,322.8 L382.3,322.7 L383.8,322.6 L385.3,322.5 L386.8,322.4 L388.3,322.3 L389.8,322.3 L391.3,322.2 L392.8,322.2 L394.3,322.2 L395.8,322.1 L397.3,322.1 L398.8,322.1 L400.3,322.1 L401.8,322.1 L403.3,322.1 L404.8,322.1 L406.3,322.0 L407.8,322.0 L409.3,322.0 L410.8,322.0 L412.3,322.0 L413.8,322.0 L415.3,322.0 L416.8,322.0 L418.3,322.0 L419.8,322.0 L421.3,322.0 L422.8,322.0 L424.3,322.0 L425.8,322.0 L427.3,322.0 L428.8,322.0 L430.3,322.0 L431.8,322.0 L433.3,322.0 L434.8,322.0 L436.3,322.0 L437.8,322.0 L439.3,322.0 L440.8,322.0 L442.3,322.0 L443.8,322.0 L445.3,322.0 L446.8,322.0 L448.3,322.0 L449.8,322.0 L451.3,322.0 L452.8,322.0 L454.3,322.0 L455.8,322.0 L457.3,322.0 L458.8,322.0 L460.3,322.0 L461.8,322.0 L463.3,322.0 L464.8,322.0 L466.3,322.0 L467.8,322.0 L469.3,322.0 L470.8,322.0 L472.3,322.0 L473.8,322.0 L475.3,322.0 L476.8,322.0 L478.3,322.0 L479.8,322.0 L481.3,322.0 L482.8,322.0 L484.3,322.0 L485.8,322.0 L487.3,322.0 L488.8,322.0 L490.3,322.0 L491.8,322.0 L493.3,322.0 L494.8,322.0 L496.3,322.0 L497.8,322.0 L499.3,322.0 L500.8,322.0 L502.3,322.0 L503.8,322.0 L505.3,322.0 L506.8,322.0 L508.3,322.0 L509.8,322.0 L511.3,322.0 L512.8,322.0 L514.3,322.0 L515.8,322.0 L517.3,322.0 L518.8,322.0 L520.3,322.0 L521.8,322.0 L523.3,322.0 L524.8,322.0 L526.3,322.0 L527.8,322.0 L529.3,322.0 L530.3,322.0" transform="translate(0 -2.4)" stroke="#fbf6cf" stroke-width="1.3"/>
<path d="M359.8,330.0 L361.3,328.8 L362.8,327.7 L364.3,326.9 L365.8,326.1 L367.3,325.5 L368.8,324.9 L370.3,324.5 L371.8,324.1 L373.3,323.8 L374.8,323.5 L376.3,323.3 L377.8,323.1 L379.3,322.9 L380.8,322.8 L382.3,322.7 L383.8,322.6 L385.3,322.5 L386.8,322.4 L388.3,322.3 L389.8,322.3 L391.3,322.2 L392.8,322.2 L394.3,322.2 L395.8,322.1 L397.3,322.1 L398.8,322.1 L400.3,322.1 L401.8,322.1 L403.3,322.1 L404.8,322.1 L406.3,322.0 L407.8,322.0 L409.3,322.0 L410.8,322.0 L412.3,322.0 L413.8,322.0 L415.3,322.0 L416.8,322.0 L418.3,322.0 L419.8,322.0 L421.3,322.0 L422.8,322.0 L424.3,322.0 L425.8,322.0 L427.3,322.0 L428.8,322.0 L430.3,322.0 L431.8,322.0 L433.3,322.0 L434.8,322.0 L436.3,322.0 L437.8,322.0 L439.3,322.0 L440.8,322.0 L442.3,322.0 L443.8,322.0 L445.3,322.0 L446.8,322.0 L448.3,322.0 L449.8,322.0 L451.3,322.0 L452.8,322.0 L454.3,322.0 L455.8,322.0 L457.3,322.0 L458.8,322.0 L460.3,322.0 L461.8,322.0 L463.3,322.0 L464.8,322.0 L466.3,322.0 L467.8,322.0 L469.3,322.0 L470.8,322.0 L472.3,322.0 L473.8,322.0 L475.3,322.0 L476.8,322.0 L478.3,322.0 L479.8,322.0 L481.3,322.0 L482.8,322.0 L484.3,322.0 L485.8,322.0 L487.3,322.0 L488.8,322.0 L490.3,322.0 L491.8,322.0 L493.3,322.0 L494.8,322.0 L496.3,322.0 L497.8,322.0 L499.3,322.0 L500.8,322.0 L502.3,322.0 L503.8,322.0 L505.3,322.0 L506.8,322.0 L508.3,322.0 L509.8,322.0 L511.3,322.0 L512.8,322.0 L514.3,322.0 L515.8,322.0 L517.3,322.0 L518.8,322.0 L520.3,322.0 L521.8,322.0 L523.3,322.0 L524.8,322.0 L526.3,322.0 L527.8,322.0 L529.3,322.0 L530.3,322.0" transform="translate(0 -1.2)" stroke="#f7f0b2" stroke-width="1.4"/>
<path d="M359.8,330.0 L361.3,328.8 L362.8,327.7 L364.3,326.9 L365.8,326.1 L367.3,325.5 L368.8,324.9 L370.3,324.5 L371.8,324.1 L373.3,323.8 L374.8,323.5 L376.3,323.3 L377.8,323.1 L379.3,322.9 L380.8,322.8 L382.3,322.7 L383.8,322.6 L385.3,322.5 L386.8,322.4 L388.3,322.3 L389.8,322.3 L391.3,322.2 L392.8,322.2 L394.3,322.2 L395.8,322.1 L397.3,322.1 L398.8,322.1 L400.3,322.1 L401.8,322.1 L403.3,322.1 L404.8,322.1 L406.3,322.0 L407.8,322.0 L409.3,322.0 L410.8,322.0 L412.3,322.0 L413.8,322.0 L415.3,322.0 L416.8,322.0 L418.3,322.0 L419.8,322.0 L421.3,322.0 L422.8,322.0 L424.3,322.0 L425.8,322.0 L427.3,322.0 L428.8,322.0 L430.3,322.0 L431.8,322.0 L433.3,322.0 L434.8,322.0 L436.3,322.0 L437.8,322.0 L439.3,322.0 L440.8,322.0 L442.3,322.0 L443.8,322.0 L445.3,322.0 L446.8,322.0 L448.3,322.0 L449.8,322.0 L451.3,322.0 L452.8,322.0 L454.3,322.0 L455.8,322.0 L457.3,322.0 L458.8,322.0 L460.3,322.0 L461.8,322.0 L463.3,322.0 L464.8,322.0 L466.3,322.0 L467.8,322.0 L469.3,322.0 L470.8,322.0 L472.3,322.0 L473.8,322.0 L475.3,322.0 L476.8,322.0 L478.3,322.0 L479.8,322.0 L481.3,322.0 L482.8,322.0 L484.3,322.0 L485.8,322.0 L487.3,322.0 L488.8,322.0 L490.3,322.0 L491.8,322.0 L493.3,322.0 L494.8,322.0 L496.3,322.0 L497.8,322.0 L499.3,322.0 L500.8,322.0 L502.3,322.0 L503.8,322.0 L505.3,322.0 L506.8,322.0 L508.3,322.0 L509.8,322.0 L511.3,322.0 L512.8,322.0 L514.3,322.0 L515.8,322.0 L517.3,322.0 L518.8,322.0 L520.3,322.0 L521.8,322.0 L523.3,322.0 L524.8,322.0 L526.3,322.0 L527.8,322.0 L529.3,322.0 L530.3,322.0" transform="translate(0 4.8)" stroke="#fefcec" stroke-width="1.3"/>
<path d="M359.8,330.0 L361.3,328.8 L362.8,327.7 L364.3,326.9 L365.8,326.1 L367.3,325.5 L368.8,324.9 L370.3,324.5 L371.8,324.1 L373.3,323.8 L374.8,323.5 L376.3,323.3 L377.8,323.1 L379.3,322.9 L380.8,322.8 L382.3,322.7 L383.8,322.6 L385.3,322.5 L386.8,322.4 L388.3,322.3 L389.8,322.3 L391.3,322.2 L392.8,322.2 L394.3,322.2 L395.8,322.1 L397.3,322.1 L398.8,322.1 L400.3,322.1 L401.8,322.1 L403.3,322.1 L404.8,322.1 L406.3,322.0 L407.8,322.0 L409.3,322.0 L410.8,322.0 L412.3,322.0 L413.8,322.0 L415.3,322.0 L416.8,322.0 L418.3,322.0 L419.8,322.0 L421.3,322.0 L422.8,322.0 L424.3,322.0 L425.8,322.0 L427.3,322.0 L428.8,322.0 L430.3,322.0 L431.8,322.0 L433.3,322.0 L434.8,322.0 L436.3,322.0 L437.8,322.0 L439.3,322.0 L440.8,322.0 L442.3,322.0 L443.8,322.0 L445.3,322.0 L446.8,322.0 L448.3,322.0 L449.8,322.0 L451.3,322.0 L452.8,322.0 L454.3,322.0 L455.8,322.0 L457.3,322.0 L458.8,322.0 L460.3,322.0 L461.8,322.0 L463.3,322.0 L464.8,322.0 L466.3,322.0 L467.8,322.0 L469.3,322.0 L470.8,322.0 L472.3,322.0 L473.8,322.0 L475.3,322.0 L476.8,322.0 L478.3,322.0 L479.8,322.0 L481.3,322.0 L482.8,322.0 L484.3,322.0 L485.8,322.0 L487.3,322.0 L488.8,322.0 L490.3,322.0 L491.8,322.0 L493.3,322.0 L494.8,322.0 L496.3,322.0 L497.8,322.0 L499.3,322.0 L500.8,322.0 L502.3,322.0 L503.8,322.0 L505.3,322.0 L506.8,322.0 L508.3,322.0 L509.8,322.0 L511.3,322.0 L512.8,322.0 L514.3,322.0 L515.8,322.0 L517.3,322.0 L518.8,322.0 L520.3,322.0 L521.8,322.0 L523.3,322.0 L524.8,322.0 L526.3,322.0 L527.8,322.0 L529.3,322.0 L530.3,322.0" transform="translate(0 3.6)" stroke="#fcf9de" stroke-width="1.3"/>
<path d="M359.8,330.0 L361.3,328.8 L362.8,327.7 L364.3,326.9 L365.8,326.1 L367.3,325.5 L368.8,324.9 L370.3,324.5 L371.8,324.1 L373.3,323.8 L374.8,323.5 L376.3,323.3 L377.8,323.1 L379.3,322.9 L380.8,322.8 L382.3,322.7 L383.8,322.6 L385.3,322.5 L386.8,322.4 L388.3,322.3 L389.8,322.3 L391.3,322.2 L392.8,322.2 L394.3,322.2 L395.8,322.1 L397.3,322.1 L398.8,322.1 L400.3,322.1 L401.8,322.1 L403.3,322.1 L404.8,322.1 L406.3,322.0 L407.8,322.0 L409.3,322.0 L410.8,322.0 L412.3,322.0 L413.8,322.0 L415.3,322.0 L416.8,322.0 L418.3,322.0 L419.8,322.0 L421.3,322.0 L422.8,322.0 L424.3,322.0 L425.8,322.0 L427.3,322.0 L428.8,322.0 L430.3,322.0 L431.8,322.0 L433.3,322.0 L434.8,322.0 L436.3,322.0 L437.8,322.0 L439.3,322.0 L440.8,322.0 L442.3,322.0 L443.8,322.0 L445.3,322.0 L446.8,322.0 L448.3,322.0 L449.8,322.0 L451.3,322.0 L452.8,322.0 L454.3,322.0 L455.8,322.0 L457.3,322.0 L458.8,322.0 L460.3,322.0 L461.8,322.0 L463.3,322.0 L464.8,322.0 L466.3,322.0 L467.8,322.0 L469.3,322.0 L470.8,322.0 L472.3,322.0 L473.8,322.0 L475.3,322.0 L476.8,322.0 L478.3,322.0 L479.8,322.0 L481.3,322.0 L482.8,322.0 L484.3,322.0 L485.8,322.0 L487.3,322.0 L488.8,322.0 L490.3,322.0 L491.8,322.0 L493.3,322.0 L494.8,322.0 L496.3,322.0 L497.8,322.0 L499.3,322.0 L500.8,322.0 L502.3,322.0 L503.8,322.0 L505.3,322.0 L506.8,322.0 L508.3,322.0 L509.8,322.0 L511.3,322.0 L512.8,322.0 L514.3,322.0 L515.8,322.0 L517.3,322.0 L518.8,322.0 L520.3,322.0 L521.8,322.0 L523.3,322.0 L524.8,322.0 L526.3,322.0 L527.8,322.0 L529.3,322.0 L530.3,322.0" transform="translate(0 2.5)" stroke="#fbf6d2" stroke-width="1.3"/>
<path d="M359.8,330.0 L361.3,328.8 L362.8,327.7 L364.3,326.9 L365.8,326.1 L367.3,325.5 L368.8,324.9 L370.3,324.5 L371.8,324.1 L373.3,323.8 L374.8,323.5 L376.3,323.3 L377.8,323.1 L379.3,322.9 L380.8,322.8 L382.3,322.7 L383.8,322.6 L385.3,322.5 L386.8,322.4 L388.3,322.3 L389.8,322.3 L391.3,322.2 L392.8,322.2 L394.3,322.2 L395.8,322.1 L397.3,322.1 L398.8,322.1 L400.3,322.1 L401.8,322.1 L403.3,322.1 L404.8,322.1 L406.3,322.0 L407.8,322.0 L409.3,322.0 L410.8,322.0 L412.3,322.0 L413.8,322.0 L415.3,322.0 L416.8,322.0 L418.3,322.0 L419.8,322.0 L421.3,322.0 L422.8,322.0 L424.3,322.0 L425.8,322.0 L427.3,322.0 L428.8,322.0 L430.3,322.0 L431.8,322.0 L433.3,322.0 L434.8,322.0 L436.3,322.0 L437.8,322.0 L439.3,322.0 L440.8,322.0 L442.3,322.0 L443.8,322.0 L445.3,322.0 L446.8,322.0 L448.3,322.0 L449.8,322.0 L451.3,322.0 L452.8,322.0 L454.3,322.0 L455.8,322.0 L457.3,322.0 L458.8,322.0 L460.3,322.0 L461.8,322.0 L463.3,322.0 L464.8,322.0 L466.3,322.0 L467.8,322.0 L469.3,322.0 L470.8,322.0 L472.3,322.0 L473.8,322.0 L475.3,322.0 L476.8,322.0 L478.3,322.0 L479.8,322.0 L481.3,322.0 L482.8,322.0 L484.3,322.0 L485.8,322.0 L487.3,322.0 L488.8,322.0 L490.3,322.0 L491.8,322.0 L493.3,322.0 L494.8,322.0 L496.3,322.0 L497.8,322.0 L499.3,322.0 L500.8,322.0 L502.3,322.0 L503.8,322.0 L505.3,322.0 L506.8,322.0 L508.3,322.0 L509.8,322.0 L511.3,322.0 L512.8,322.0 L514.3,322.0 L515.8,322.0 L517.3,322.0 L518.8,322.0 L520.3,322.0 L521.8,322.0 L523.3,322.0 L524.8,322.0 L526.3,322.0 L527.8,322.0 L529.3,322.0 L530.3,322.0" transform="translate(0 1.3)" stroke="#f9f3c4" stroke-width="1.4"/>
<path d="M359.8,330.0 L361.3,328.8 L362.8,327.7 L364.3,326.9 L365.8,326.1 L367.3,325.5 L368.8,324.9 L370.3,324.5 L371.8,324.1 L373.3,323.8 L374.8,323.5 L376.3,323.3 L377.8,323.1 L379.3,322.9 L380.8,322.8 L382.3,322.7 L383.8,322.6 L385.3,322.5 L386.8,322.4 L388.3,322.3 L389.8,322.3 L391.3,322.2 L392.8,322.2 L394.3,322.2 L395.8,322.1 L397.3,322.1 L398.8,322.1 L400.3,322.1 L401.8,322.1 L403.3,322.1 L404.8,322.1 L406.3,322.0 L407.8,322.0 L409.3,322.0 L410.8,322.0 L412.3,322.0 L413.8,322.0 L415.3,322.0 L416.8,322.0 L418.3,322.0 L419.8,322.0 L421.3,322.0 L422.8,322.0 L424.3,322.0 L425.8,322.0 L427.3,322.0 L428.8,322.0 L430.3,322.0 L431.8,322.0 L433.3,322.0 L434.8,322.0 L436.3,322.0 L437.8,322.0 L439.3,322.0 L440.8,322.0 L442.3,322.0 L443.8,322.0 L445.3,322.0 L446.8,322.0 L448.3,322.0 L449.8,322.0 L451.3,322.0 L452.8,322.0 L454.3,322.0 L455.8,322.0 L457.3,322.0 L458.8,322.0 L460.3,322.0 L461.8,322.0 L463.3,322.0 L464.8,322.0 L466.3,322.0 L467.8,322.0 L469.3,322.0 L470.8,322.0 L472.3,322.0 L473.8,322.0 L475.3,322.0 L476.8,322.0 L478.3,322.0 L479.8,322.0 L481.3,322.0 L482.8,322.0 L484.3,322.0 L485.8,322.0 L487.3,322.0 L488.8,322.0 L490.3,322.0 L491.8,322.0 L493.3,322.0 L494.8,322.0 L496.3,322.0 L497.8,322.0 L499.3,322.0 L500.8,322.0 L502.3,322.0 L503.8,322.0 L505.3,322.0 L506.8,322.0 L508.3,322.0 L509.8,322.0 L511.3,322.0 L512.8,322.0 L514.3,322.0 L515.8,322.0 L517.3,322.0 L518.8,322.0 L520.3,322.0 L521.8,322.0 L523.3,322.0 L524.8,322.0 L526.3,322.0 L527.8,322.0 L529.3,322.0 L530.3,322.0" stroke="#cfc888" stroke-width="1.1"/>
</g>
<path d="M359.8,348.8 L361.3,347.3 L362.8,345.8 L364.3,344.5 L365.8,343.3 L367.3,342.2 L368.8,341.1 L370.3,340.2 L371.8,339.3 L373.3,338.5 L374.8,337.7 L376.3,337.0 L377.8,336.4 L379.3,335.8 L380.8,335.3 L382.3,334.8 L383.8,334.3 L385.3,333.9 L386.8,333.5 L388.3,333.1 L389.8,332.8 L391.3,332.5 L392.8,332.2 L394.3,331.9 L395.8,331.7 L397.3,331.5 L398.8,331.3 L400.3,331.1 L401.8,330.9 L403.3,330.7 L404.8,330.6 L406.3,330.4 L407.8,330.3 L409.3,330.2 L410.8,330.1 L412.3,330.0 L413.8,329.9 L415.3,329.8 L416.8,329.7 L418.3,329.7 L419.8,329.6 L421.3,329.5 L422.8,329.5 L424.3,329.4 L425.8,329.4 L427.3,329.3 L428.8,329.3 L430.3,329.3 L431.8,329.2 L433.3,329.2 L434.8,329.2 L436.3,329.1 L437.8,329.1 L439.3,329.1 L440.8,329.1 L442.3,329.0 L443.8,329.0 L445.3,329.0 L446.8,329.0 L448.3,329.0 L449.8,329.0 L451.3,328.9 L452.8,328.9 L454.3,328.9 L455.8,328.9 L457.3,328.9 L458.8,328.9 L460.3,328.9 L461.8,328.9 L463.3,328.9 L464.8,328.9 L466.3,328.9 L467.8,328.9 L469.3,328.9 L470.8,328.9 L472.3,328.8 L473.8,328.8 L475.3,328.8 L476.8,328.8 L478.3,328.8 L479.8,328.8 L481.3,328.8 L482.8,328.8 L484.3,328.8 L485.8,328.8 L487.3,328.8 L488.8,328.8 L490.3,328.8 L491.8,328.8 L493.3,328.8 L494.8,328.8 L496.3,328.8 L497.8,328.8 L499.3,328.8 L500.8,328.8 L502.3,328.8 L503.8,328.8 L505.3,328.8 L506.8,328.8 L508.3,328.8 L509.8,328.8 L511.3,328.8 L512.8,328.8 L514.3,328.8 L515.8,328.8 L517.3,328.8 L518.8,328.8 L520.3,328.8 L521.8,328.8 L523.3,328.8 L524.8,328.8 L526.3,328.8 L527.8,328.8 L529.3,328.8 L530.8,328.8 L532.3,328.8 L533.8,328.8 L535.3,328.8 L536.8,328.8 L538.3,328.8 L539.8,328.8 L541.3,328.8 L542.8,328.8 L544.0,328.8" fill="none" stroke="#f0c646" stroke-width="2.8"/>
<path d="M359.6,448.2 C368,436 385,428 410,424 C420,423.2 430,423.1 440,423.1 L539.8,423.1" fill="none" stroke="#f0c646" stroke-width="2.8"/>
<path d="M358.0,261.2 V551" stroke="#a9323f" stroke-width="2.1" stroke-dasharray="5.6 1.81"/>
<ellipse cx="203.7" cy="374.5" rx="21.2" ry="70.8" fill="none" stroke="#b98d9c" stroke-width="1.3" stroke-dasharray="4 2.6"/>
<ellipse cx="357.5" cy="376" rx="16.2" ry="54.5" transform="rotate(25 357.5 376)" fill="none" stroke="#b98d9c" stroke-width="1.3" stroke-dasharray="4 2.6"/>
<g fill="none" stroke-width="3.3">
<ellipse cx="204.1" cy="325.5" rx="11.3" ry="8.4" stroke="#1a8dbd"/>
<ellipse cx="369.9" cy="346.6" rx="11.3" ry="8.5" transform="rotate(8 369.9 346.6)" stroke="#1a8dbd"/>
<ellipse cx="445.3" cy="328.4" rx="11.1" ry="8.5" stroke="#1a8dbd"/>
<ellipse cx="202.3" cy="419.6" rx="11" ry="8.4" stroke="#5caa5a"/>
<ellipse cx="269.8" cy="420.4" rx="10.8" ry="8.7" stroke="#5caa5a"/>
<ellipse cx="344.4" cy="404" rx="11.2" ry="8.7" transform="rotate(-8 344.4 404)" stroke="#5caa5a"/>
</g>
<g fill="none" stroke="#222" stroke-width="2.7" stroke-dasharray="5.2 3.2">
<path d="M231,370 H332"/>
<path d="M329,401.8 C315,401 300,405 290,413.5"/>
<path d="M384.2,349.3 C401,348.9 415,345.5 425.8,337"/>
</g>
<g fill="#161616">
<path d="M339.2,369.5 L329.6,364.6 L331.8,369.5 L329.6,374.4 Z"/>
<path d="M285.3,418.7 L287.2,408.8 L289.6,412.8 L294.4,413.4 Z"/>
<path d="M429.9,329.0 L429.3,340.9 L426.4,336.9 L420.8,336.6 Z"/>
</g>
<g fill="none" stroke="#2a2a2a" stroke-width="2.6" stroke-linecap="round" stroke-linejoin="round">
<path d="M133.8,340.5 C138.8,351.5 144.8,354.5 153.8,354.5 C163.8,354.5 171.8,358.5 174.8,368.0"/>
<path d="M167.8,363.0 L174.8,368.5 L175.4,360.0"/>
<path d="M133.2,353.8 C138.2,364.8 144.2,367.8 153.2,367.8 C163.2,367.8 171.2,371.8 174.2,381.3"/>
<path d="M167.2,376.3 L174.2,381.8 L174.8,373.3"/>
<path d="M134.2,367.2 C139.2,378.2 145.2,381.2 154.2,381.2 C164.2,381.2 172.2,385.2 175.2,394.7"/>
<path d="M168.2,389.7 L175.2,395.2 L175.8,386.7"/>
</g>
<g font-family="'Liberation Sans', sans-serif" font-size="15.5" fill="#161616" stroke="#161616" stroke-width="0.22">
<text x="122.2" y="328.25" textLength="42.39" lengthAdjust="spacingAndGlyphs">LUMO</text>
<text x="122.0" y="424.55" textLength="46.85" lengthAdjust="spacingAndGlyphs">HOMO</text>
<text x="551.7" y="334.85" font-size="16" textLength="43.11" lengthAdjust="spacingAndGlyphs">LUMO</text>
<text x="552.0" y="428.55" textLength="46.85" lengthAdjust="spacingAndGlyphs">HOMO</text>
<text x="184.6" y="463.15" textLength="48.0" lengthAdjust="spacingAndGlyphs">Exciton</text>
<text x="378.5" y="392.05" textLength="63.45" lengthAdjust="spacingAndGlyphs">CT states</text>
<text x="460.4" y="349.75" textLength="68.78" lengthAdjust="spacingAndGlyphs">Separated</text>
<text x="460.5" y="366.05" textLength="52.72" lengthAdjust="spacingAndGlyphs">charges</text>
<text x="265.8" y="501.25" textLength="56.84" lengthAdjust="spacingAndGlyphs">Rubrene</text>
<text x="409.6" y="500.85" textLength="41.77" lengthAdjust="spacingAndGlyphs">TCNQ</text>
<text x="114.2" y="356.8" font-family="'Liberation Serif', serif" font-style="italic" font-size="16">h<tspan font-size="14.2">ν</tspan></text>
</g>
</svg></body></html>
